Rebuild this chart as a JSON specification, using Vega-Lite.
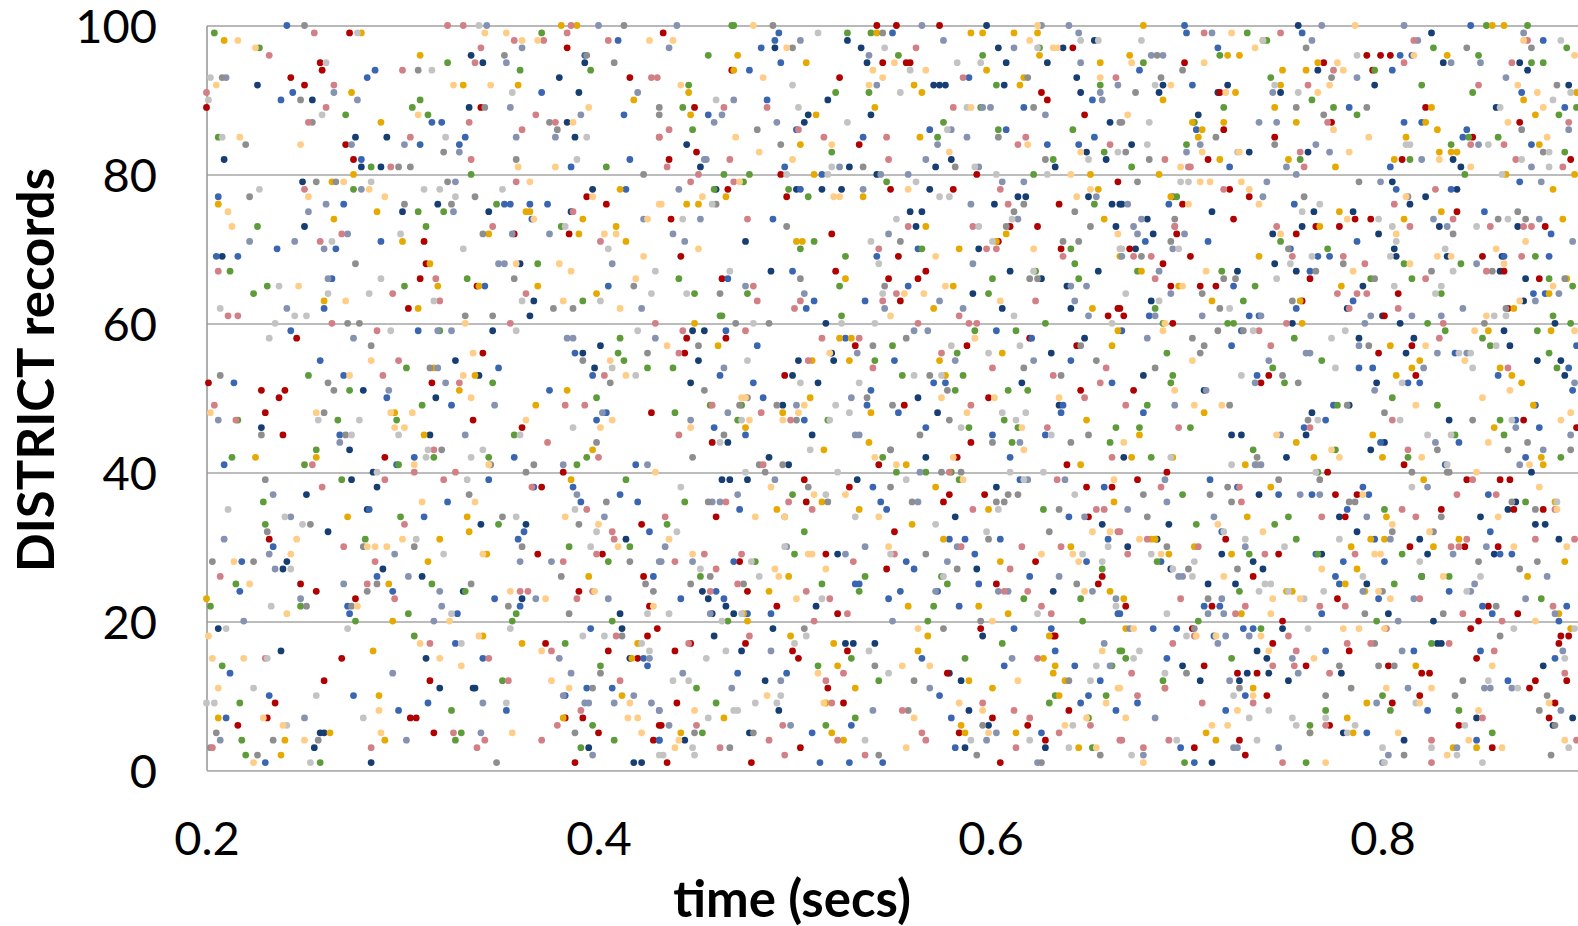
{"$schema":"https://vega.github.io/schema/vega-lite/v6.json","width":1372,"height":744.5,"autosize":"none","padding":{"left":206.5,"top":25.5,"right":0,"bottom":156},"background":"white","data":{"values":[
{"t":0.241,"r":100,"s":"c"},{"t":0.250,"r":100,"s":"g"},{"t":0.323,"r":100,"s":"h"},{"t":0.331,"r":100,"s":"h"},{"t":0.339,"r":100,"s":"i"},{"t":0.343,"r":100,"s":"f"},{"t":0.381,"r":100,"s":"e"},{"t":0.386,"r":100,"s":"h"},{"t":0.389,"r":100,"s":"e"},{"t":0.400,"r":100,"s":"f"},{"t":0.413,"r":100,"s":"g"},
{"t":0.204,"r":99,"s":"d"},{"t":0.255,"r":99,"s":"h"},{"t":0.273,"r":99,"s":"b"},{"t":0.277,"r":99,"s":"i"},{"t":0.279,"r":99,"s":"e"},{"t":0.342,"r":99,"s":"j"},{"t":0.353,"r":99,"s":"j"},{"t":0.371,"r":99,"s":"d"},{"t":0.384,"r":99,"s":"h"},
{"t":0.209,"r":98,"s":"e"},{"t":0.216,"r":98,"s":"j"},{"t":0.357,"r":98,"s":"h"},{"t":0.361,"r":98,"s":"j"},{"t":0.369,"r":98,"s":"j"},{"t":0.372,"r":98,"s":"h"},{"t":0.405,"r":98,"s":"h"},{"t":0.410,"r":98,"s":"c"},{"t":0.426,"r":98,"s":"j"},
{"t":0.225,"r":97,"s":"j"},{"t":0.227,"r":97,"s":"d"},{"t":0.340,"r":97,"s":"h"},{"t":0.361,"r":97,"s":"f"},{"t":0.384,"r":97,"s":"b"},
{"t":0.232,"r":96,"s":"h"},{"t":0.309,"r":96,"s":"e"},{"t":0.335,"r":96,"s":"a"},{"t":0.352,"r":96,"s":"g"},{"t":0.393,"r":96,"s":"c"},{"t":0.394,"r":96,"s":"g"},
{"t":0.258,"r":95,"s":"b"},{"t":0.261,"r":95,"s":"i"},{"t":0.323,"r":95,"s":"d"},{"t":0.337,"r":95,"s":"h"},{"t":0.341,"r":95,"s":"a"},{"t":0.353,"r":95,"s":"f"},{"t":0.393,"r":95,"s":"a"},{"t":0.408,"r":95,"s":"g"},
{"t":0.259,"r":94,"s":"b"},{"t":0.286,"r":94,"s":"c"},{"t":0.300,"r":94,"s":"h"},{"t":0.308,"r":94,"s":"g"},{"t":0.315,"r":94,"s":"i"},{"t":0.360,"r":94,"s":"d"},{"t":0.396,"r":94,"s":"d"},
{"t":0.202,"r":93,"s":"i"},{"t":0.208,"r":93,"s":"g"},{"t":0.210,"r":93,"s":"f"},{"t":0.243,"r":93,"s":"b"},{"t":0.282,"r":93,"s":"c"},{"t":0.380,"r":93,"s":"a"},{"t":0.416,"r":93,"s":"b"},{"t":0.427,"r":93,"s":"h"},{"t":0.430,"r":93,"s":"h"},
{"t":0.205,"r":92,"s":"j"},{"t":0.226,"r":92,"s":"a"},{"t":0.250,"r":92,"s":"b"},{"t":0.265,"r":92,"s":"h"},{"t":0.326,"r":92,"s":"j"},{"t":0.331,"r":92,"s":"e"},{"t":0.345,"r":92,"s":"j"},{"t":0.359,"r":92,"s":"e"},
{"t":0.200,"r":91,"s":"h"},{"t":0.244,"r":91,"s":"c"},{"t":0.265,"r":91,"s":"f"},{"t":0.274,"r":91,"s":"e"},{"t":0.356,"r":91,"s":"i"},{"t":0.371,"r":91,"s":"c"},{"t":0.390,"r":91,"s":"a"},{"t":0.420,"r":91,"s":"f"},
{"t":0.201,"r":90,"s":"i"},{"t":0.238,"r":90,"s":"c"},{"t":0.248,"r":90,"s":"g"},{"t":0.254,"r":90,"s":"a"},{"t":0.277,"r":90,"s":"f"},{"t":0.309,"r":90,"s":"d"},{"t":0.418,"r":90,"s":"e"},
{"t":0.200,"r":89,"s":"b"},{"t":0.261,"r":89,"s":"h"},{"t":0.305,"r":89,"s":"d"},{"t":0.334,"r":89,"s":"a"},{"t":0.340,"r":89,"s":"b"},{"t":0.342,"r":89,"s":"g"},{"t":0.355,"r":89,"s":"f"},{"t":0.395,"r":89,"s":"j"},
{"t":0.259,"r":88,"s":"i"},{"t":0.271,"r":88,"s":"d"},{"t":0.308,"r":88,"s":"j"},{"t":0.313,"r":88,"s":"d"},{"t":0.368,"r":88,"s":"h"},{"t":0.391,"r":88,"s":"f"},{"t":0.413,"r":88,"s":"c"},{"t":0.431,"r":88,"s":"g"},
{"t":0.252,"r":87,"s":"h"},{"t":0.254,"r":87,"s":"g"},{"t":0.289,"r":87,"s":"e"},{"t":0.315,"r":87,"s":"c"},{"t":0.320,"r":87,"s":"c"},{"t":0.334,"r":87,"s":"h"},{"t":0.375,"r":87,"s":"g"},{"t":0.378,"r":87,"s":"h"},{"t":0.384,"r":87,"s":"a"},{"t":0.387,"r":87,"s":"j"},
{"t":0.361,"r":86,"s":"h"},{"t":0.379,"r":86,"s":"g"},
{"t":0.206,"r":85,"s":"d"},{"t":0.208,"r":85,"s":"i"},{"t":0.217,"r":85,"s":"j"},{"t":0.276,"r":85,"s":"a"},{"t":0.292,"r":85,"s":"a"},{"t":0.304,"r":85,"s":"h"},{"t":0.322,"r":85,"s":"i"},{"t":0.332,"r":85,"s":"c"},{"t":0.358,"r":85,"s":"f"},{"t":0.378,"r":85,"s":"f"},{"t":0.388,"r":85,"s":"a"},{"t":0.394,"r":85,"s":"i"},{"t":0.431,"r":85,"s":"h"},
{"t":0.220,"r":84,"s":"g"},{"t":0.248,"r":84,"s":"j"},{"t":0.271,"r":84,"s":"b"},{"t":0.274,"r":84,"s":"f"},{"t":0.301,"r":84,"s":"f"},{"t":0.309,"r":84,"s":"c"},{"t":0.329,"r":84,"s":"c"},
{"t":0.321,"r":83,"s":"g"},{"t":0.329,"r":83,"s":"f"},
{"t":0.209,"r":82,"s":"a"},{"t":0.275,"r":82,"s":"b"},{"t":0.279,"r":82,"s":"c"},{"t":0.335,"r":82,"s":"h"},{"t":0.358,"r":82,"s":"g"},{"t":0.389,"r":82,"s":"i"},{"t":0.416,"r":82,"s":"c"},
{"t":0.279,"r":81,"s":"a"},{"t":0.284,"r":81,"s":"d"},{"t":0.289,"r":81,"s":"a"},{"t":0.294,"r":81,"s":"h"},{"t":0.298,"r":81,"s":"g"},{"t":0.304,"r":81,"s":"g"},{"t":0.359,"r":81,"s":"j"},{"t":0.378,"r":81,"s":"j"},{"t":0.386,"r":81,"s":"c"},{"t":0.404,"r":81,"s":"d"},
{"t":0.275,"r":80,"s":"e"},{"t":0.335,"r":80,"s":"d"},{"t":0.423,"r":80,"s":"g"},
{"t":0.249,"r":79,"s":"a"},{"t":0.256,"r":79,"s":"g"},{"t":0.264,"r":79,"s":"e"},{"t":0.266,"r":79,"s":"g"},{"t":0.270,"r":79,"s":"j"},{"t":0.284,"r":79,"s":"i"},{"t":0.323,"r":79,"s":"g"},{"t":0.327,"r":79,"s":"f"},{"t":0.358,"r":79,"s":"h"},{"t":0.365,"r":79,"s":"j"},
{"t":0.227,"r":78,"s":"i"},{"t":0.250,"r":78,"s":"h"},{"t":0.275,"r":78,"s":"d"},{"t":0.279,"r":78,"s":"f"},{"t":0.283,"r":78,"s":"j"},{"t":0.311,"r":78,"s":"i"},{"t":0.319,"r":78,"s":"i"},{"t":0.351,"r":78,"s":"i"},{"t":0.397,"r":78,"s":"a"},{"t":0.411,"r":78,"s":"e"},{"t":0.414,"r":78,"s":"c"},
{"t":0.206,"r":77,"s":"c"},{"t":0.222,"r":77,"s":"g"},{"t":0.252,"r":77,"s":"j"},{"t":0.291,"r":77,"s":"j"},{"t":0.327,"r":77,"s":"i"},{"t":0.337,"r":77,"s":"g"},{"t":0.394,"r":77,"s":"b"},{"t":0.397,"r":77,"s":"j"},
{"t":0.206,"r":76,"s":"e"},{"t":0.261,"r":76,"s":"f"},{"t":0.270,"r":76,"s":"c"},{"t":0.301,"r":76,"s":"g"},{"t":0.318,"r":76,"s":"a"},{"t":0.325,"r":76,"s":"g"},{"t":0.348,"r":76,"s":"d"},{"t":0.352,"r":76,"s":"c"},{"t":0.355,"r":76,"s":"c"},{"t":0.365,"r":76,"s":"c"},{"t":0.374,"r":76,"s":"c"},{"t":0.404,"r":76,"s":"b"},{"t":0.431,"r":76,"s":"j"},
{"t":0.211,"r":75,"s":"j"},{"t":0.252,"r":75,"s":"f"},{"t":0.287,"r":75,"s":"e"},{"t":0.300,"r":75,"s":"a"},{"t":0.308,"r":75,"s":"d"},{"t":0.321,"r":75,"s":"d"},{"t":0.326,"r":75,"s":"f"},{"t":0.344,"r":75,"s":"a"},{"t":0.363,"r":75,"s":"e"},{"t":0.365,"r":75,"s":"e"},{"t":0.386,"r":75,"s":"a"},{"t":0.387,"r":75,"s":"h"},
{"t":0.265,"r":74,"s":"e"},{"t":0.366,"r":74,"s":"c"},{"t":0.367,"r":74,"s":"j"},{"t":0.392,"r":74,"s":"e"},{"t":0.423,"r":74,"s":"f"},{"t":0.425,"r":74,"s":"j"},
{"t":0.213,"r":73,"s":"j"},{"t":0.226,"r":73,"s":"d"},{"t":0.250,"r":73,"s":"a"},{"t":0.312,"r":73,"s":"d"},{"t":0.346,"r":73,"s":"h"},{"t":0.381,"r":73,"s":"d"},{"t":0.383,"r":73,"s":"i"},{"t":0.409,"r":73,"s":"e"},
{"t":0.269,"r":72,"s":"h"},{"t":0.272,"r":72,"s":"f"},{"t":0.299,"r":72,"s":"i"},{"t":0.341,"r":72,"s":"g"},{"t":0.344,"r":72,"s":"e"},{"t":0.356,"r":72,"s":"f"},{"t":0.357,"r":72,"s":"b"},{"t":0.375,"r":72,"s":"f"},{"t":0.385,"r":72,"s":"b"},{"t":0.390,"r":72,"s":"e"},{"t":0.403,"r":72,"s":"j"},{"t":0.409,"r":72,"s":"j"},
{"t":0.222,"r":71,"s":"f"},{"t":0.245,"r":71,"s":"f"},{"t":0.258,"r":71,"s":"h"},{"t":0.264,"r":71,"s":"i"},{"t":0.289,"r":71,"s":"c"},{"t":0.300,"r":71,"s":"e"},{"t":0.311,"r":71,"s":"b"},{"t":0.401,"r":71,"s":"h"},{"t":0.414,"r":71,"s":"e"},
{"t":0.236,"r":70,"s":"c"},{"t":0.260,"r":70,"s":"f"},{"t":0.266,"r":70,"s":"c"},{"t":0.331,"r":70,"s":"i"},{"t":0.405,"r":70,"s":"i"},
{"t":0.205,"r":69,"s":"c"},{"t":0.208,"r":69,"s":"a"},{"t":0.216,"r":69,"s":"c"},{"t":0.423,"r":69,"s":"j"},
{"t":0.276,"r":68,"s":"g"},{"t":0.312,"r":68,"s":"b"},{"t":0.314,"r":68,"s":"e"},{"t":0.349,"r":68,"s":"f"},{"t":0.352,"r":68,"s":"f"},{"t":0.358,"r":68,"s":"j"},{"t":0.360,"r":68,"s":"a"},{"t":0.369,"r":68,"s":"d"},{"t":0.380,"r":68,"s":"j"},{"t":0.407,"r":68,"s":"f"},
{"t":0.206,"r":67,"s":"h"},{"t":0.212,"r":67,"s":"d"},{"t":0.386,"r":67,"s":"j"},{"t":0.429,"r":67,"s":"i"},
{"t":0.262,"r":66,"s":"f"},{"t":0.264,"r":66,"s":"c"},{"t":0.289,"r":66,"s":"i"},{"t":0.309,"r":66,"s":"b"},{"t":0.317,"r":66,"s":"h"},{"t":0.333,"r":66,"s":"d"},{"t":0.357,"r":66,"s":"g"},{"t":0.419,"r":66,"s":"j"},
{"t":0.231,"r":65,"s":"d"},{"t":0.237,"r":65,"s":"i"},{"t":0.247,"r":65,"s":"j"},{"t":0.301,"r":65,"s":"d"},{"t":0.318,"r":65,"s":"e"},{"t":0.338,"r":65,"s":"b"},{"t":0.339,"r":65,"s":"e"},{"t":0.342,"r":65,"s":"c"},{"t":0.369,"r":65,"s":"e"},{"t":0.405,"r":65,"s":"c"},{"t":0.418,"r":65,"s":"g"},
{"t":0.224,"r":64,"s":"d"},{"t":0.262,"r":64,"s":"i"},{"t":0.283,"r":64,"s":"i"},{"t":0.295,"r":64,"s":"h"},{"t":0.363,"r":64,"s":"h"},{"t":0.399,"r":64,"s":"e"},{"t":0.427,"r":64,"s":"i"},
{"t":0.260,"r":63,"s":"e"},{"t":0.271,"r":63,"s":"j"},{"t":0.316,"r":63,"s":"i"},{"t":0.319,"r":63,"s":"h"},{"t":0.361,"r":63,"s":"i"},{"t":0.367,"r":63,"s":"a"},{"t":0.382,"r":63,"s":"j"},{"t":0.392,"r":63,"s":"d"},{"t":0.401,"r":63,"s":"i"},
{"t":0.207,"r":62,"s":"i"},{"t":0.241,"r":62,"s":"f"},{"t":0.260,"r":62,"s":"c"},{"t":0.303,"r":62,"s":"b"},{"t":0.308,"r":62,"s":"e"},{"t":0.377,"r":62,"s":"g"},{"t":0.387,"r":62,"s":"g"},{"t":0.411,"r":62,"s":"j"},{"t":0.422,"r":62,"s":"f"},
{"t":0.211,"r":61,"s":"h"},{"t":0.216,"r":61,"s":"h"},{"t":0.245,"r":61,"s":"i"},{"t":0.251,"r":61,"s":"i"},{"t":0.332,"r":61,"s":"g"},{"t":0.346,"r":61,"s":"g"},{"t":0.365,"r":61,"s":"a"},
{"t":0.235,"r":60,"s":"i"},{"t":0.264,"r":60,"s":"h"},{"t":0.272,"r":60,"s":"g"},{"t":0.278,"r":60,"s":"g"},{"t":0.332,"r":60,"s":"j"},{"t":0.355,"r":60,"s":"h"},{"t":0.429,"r":60,"s":"h"},
{"t":0.243,"r":59,"s":"c"},{"t":0.287,"r":59,"s":"h"},{"t":0.294,"r":59,"s":"i"},{"t":0.308,"r":59,"s":"c"},{"t":0.318,"r":59,"s":"f"},{"t":0.319,"r":59,"s":"d"},{"t":0.325,"r":59,"s":"f"},{"t":0.346,"r":59,"s":"a"},{"t":0.358,"r":59,"s":"i"},{"t":0.420,"r":59,"s":"i"},
{"t":0.232,"r":58,"s":"i"},{"t":0.246,"r":58,"s":"b"},{"t":0.275,"r":58,"s":"f"},{"t":0.384,"r":58,"s":"f"},{"t":0.387,"r":58,"s":"f"},{"t":0.411,"r":58,"s":"d"},{"t":0.429,"r":58,"s":"f"},
{"t":0.284,"r":57,"s":"g"},{"t":0.401,"r":57,"s":"a"},
{"t":0.336,"r":56,"s":"j"},{"t":0.341,"r":56,"s":"b"},{"t":0.388,"r":56,"s":"c"},{"t":0.392,"r":56,"s":"a"},{"t":0.410,"r":56,"s":"d"},{"t":0.425,"r":56,"s":"g"},
{"t":0.258,"r":55,"s":"c"},{"t":0.284,"r":55,"s":"j"},{"t":0.298,"r":55,"s":"h"},{"t":0.327,"r":55,"s":"a"},{"t":0.392,"r":55,"s":"g"},{"t":0.406,"r":55,"s":"j"},{"t":0.413,"r":55,"s":"d"},
{"t":0.302,"r":54,"s":"d"},{"t":0.314,"r":54,"s":"g"},{"t":0.316,"r":54,"s":"e"},{"t":0.318,"r":54,"s":"f"},{"t":0.349,"r":54,"s":"c"},{"t":0.398,"r":54,"s":"a"},{"t":0.407,"r":54,"s":"i"},{"t":0.425,"r":54,"s":"d"},
{"t":0.207,"r":53,"s":"g"},{"t":0.252,"r":53,"s":"d"},{"t":0.270,"r":53,"s":"c"},{"t":0.273,"r":53,"s":"j"},{"t":0.290,"r":53,"s":"h"},{"t":0.331,"r":53,"s":"j"},{"t":0.337,"r":53,"s":"e"},{"t":0.339,"r":53,"s":"a"},{"t":0.397,"r":53,"s":"c"},{"t":0.403,"r":53,"s":"h"},{"t":0.414,"r":53,"s":"j"},{"t":0.419,"r":53,"s":"i"},
{"t":0.201,"r":52,"s":"b"},{"t":0.214,"r":52,"s":"c"},{"t":0.262,"r":52,"s":"g"},{"t":0.315,"r":52,"s":"b"},{"t":0.322,"r":52,"s":"f"},{"t":0.329,"r":52,"s":"h"},{"t":0.346,"r":52,"s":"d"},{"t":0.406,"r":52,"s":"g"},
{"t":0.228,"r":51,"s":"b"},{"t":0.240,"r":51,"s":"b"},{"t":0.265,"r":51,"s":"g"},{"t":0.273,"r":51,"s":"d"},{"t":0.280,"r":51,"s":"a"},{"t":0.293,"r":51,"s":"f"},{"t":0.329,"r":51,"s":"e"},{"t":0.375,"r":51,"s":"c"},{"t":0.384,"r":51,"s":"e"},
{"t":0.237,"r":50,"s":"b"},{"t":0.292,"r":50,"s":"c"},{"t":0.317,"r":50,"s":"a"},{"t":0.335,"r":50,"s":"j"},{"t":0.399,"r":50,"s":"d"},
{"t":0.204,"r":49,"s":"h"},{"t":0.310,"r":49,"s":"d"},{"t":0.325,"r":49,"s":"c"},{"t":0.347,"r":49,"s":"f"},{"t":0.368,"r":49,"s":"e"},{"t":0.383,"r":49,"s":"h"},{"t":0.393,"r":49,"s":"h"},
{"t":0.202,"r":48,"s":"j"},{"t":0.230,"r":48,"s":"b"},{"t":0.256,"r":48,"s":"j"},{"t":0.260,"r":48,"s":"g"},{"t":0.294,"r":48,"s":"j"},{"t":0.296,"r":48,"s":"e"},{"t":0.305,"r":48,"s":"j"},{"t":0.402,"r":48,"s":"f"},{"t":0.404,"r":48,"s":"c"},{"t":0.427,"r":48,"s":"b"},
{"t":0.206,"r":47,"s":"f"},{"t":0.215,"r":47,"s":"h"},{"t":0.216,"r":47,"s":"d"},{"t":0.257,"r":47,"s":"i"},{"t":0.267,"r":47,"s":"d"},{"t":0.278,"r":47,"s":"i"},{"t":0.297,"r":47,"s":"d"},{"t":0.336,"r":47,"s":"b"},{"t":0.363,"r":47,"s":"j"},{"t":0.399,"r":47,"s":"c"},{"t":0.407,"r":47,"s":"j"},
{"t":0.228,"r":46,"s":"a"},{"t":0.296,"r":46,"s":"j"},{"t":0.301,"r":46,"s":"j"},{"t":0.361,"r":46,"s":"b"},{"t":0.387,"r":46,"s":"i"},{"t":0.401,"r":46,"s":"j"},
{"t":0.228,"r":45,"s":"g"},{"t":0.239,"r":45,"s":"b"},{"t":0.268,"r":45,"s":"c"},{"t":0.271,"r":45,"s":"g"},{"t":0.274,"r":45,"s":"i"},{"t":0.298,"r":45,"s":"i"},{"t":0.311,"r":45,"s":"e"},{"t":0.314,"r":45,"s":"a"},{"t":0.332,"r":45,"s":"f"},{"t":0.357,"r":45,"s":"d"},{"t":0.360,"r":45,"s":"i"},
{"t":0.268,"r":44,"s":"f"},{"t":0.374,"r":44,"s":"h"},{"t":0.399,"r":44,"s":"g"},
{"t":0.256,"r":43,"s":"d"},{"t":0.273,"r":43,"s":"a"},{"t":0.313,"r":43,"s":"i"},{"t":0.316,"r":43,"s":"h"},{"t":0.320,"r":43,"s":"g"},{"t":0.341,"r":43,"s":"i"},{"t":0.397,"r":43,"s":"e"},
{"t":0.213,"r":42,"s":"d"},{"t":0.225,"r":42,"s":"e"},{"t":0.256,"r":42,"s":"e"},{"t":0.291,"r":42,"s":"b"},{"t":0.306,"r":42,"s":"c"},{"t":0.312,"r":42,"s":"i"},{"t":0.316,"r":42,"s":"d"},{"t":0.335,"r":42,"s":"i"},{"t":0.344,"r":42,"s":"d"},{"t":0.357,"r":42,"s":"c"},{"t":0.394,"r":42,"s":"d"},{"t":0.400,"r":42,"s":"h"},
{"t":0.209,"r":41,"s":"c"},{"t":0.250,"r":41,"s":"d"},{"t":0.254,"r":41,"s":"h"},{"t":0.297,"r":41,"s":"c"},{"t":0.298,"r":41,"s":"d"},{"t":0.306,"r":41,"s":"j"},{"t":0.344,"r":41,"s":"j"},{"t":0.345,"r":41,"s":"g"},{"t":0.367,"r":41,"s":"g"},{"t":0.382,"r":41,"s":"f"},{"t":0.389,"r":41,"s":"d"},{"t":0.419,"r":41,"s":"c"},{"t":0.425,"r":41,"s":"f"},
{"t":0.285,"r":40,"s":"a"},{"t":0.287,"r":40,"s":"i"},{"t":0.306,"r":40,"s":"h"},{"t":0.327,"r":40,"s":"h"},{"t":0.363,"r":40,"s":"g"},{"t":0.382,"r":40,"s":"b"},{"t":0.429,"r":40,"s":"j"},
{"t":0.230,"r":39,"s":"g"},{"t":0.269,"r":39,"s":"d"},{"t":0.274,"r":39,"s":"a"},{"t":0.291,"r":39,"s":"h"},{"t":0.321,"r":39,"s":"h"},{"t":0.333,"r":39,"s":"i"},{"t":0.344,"r":39,"s":"c"},{"t":0.386,"r":39,"s":"e"},{"t":0.414,"r":39,"s":"d"},
{"t":0.259,"r":38,"s":"h"},{"t":0.287,"r":38,"s":"a"},{"t":0.366,"r":38,"s":"h"},{"t":0.367,"r":38,"s":"c"},{"t":0.371,"r":38,"s":"b"},{"t":0.387,"r":38,"s":"c"},
{"t":0.234,"r":37,"s":"f"},{"t":0.251,"r":37,"s":"a"},{"t":0.334,"r":37,"s":"g"},{"t":0.389,"r":37,"s":"f"},{"t":0.411,"r":37,"s":"c"},
{"t":0.229,"r":36,"s":"d"},{"t":0.310,"r":36,"s":"j"},{"t":0.323,"r":36,"s":"c"},{"t":0.337,"r":36,"s":"j"},{"t":0.391,"r":36,"s":"c"},{"t":0.404,"r":36,"s":"g"},{"t":0.420,"r":36,"s":"c"},
{"t":0.211,"r":35,"s":"i"},{"t":0.282,"r":35,"s":"a"},{"t":0.283,"r":35,"s":"c"},{"t":0.388,"r":35,"s":"i"},{"t":0.394,"r":35,"s":"h"},
{"t":0.240,"r":34,"s":"i"},{"t":0.243,"r":34,"s":"f"},{"t":0.272,"r":34,"s":"e"},{"t":0.299,"r":34,"s":"d"},{"t":0.311,"r":34,"s":"c"},{"t":0.333,"r":34,"s":"e"},{"t":0.351,"r":34,"s":"g"},{"t":0.358,"r":34,"s":"i"},{"t":0.383,"r":34,"s":"j"},{"t":0.403,"r":34,"s":"f"},
{"t":0.230,"r":33,"s":"d"},{"t":0.249,"r":33,"s":"i"},{"t":0.253,"r":33,"s":"g"},{"t":0.301,"r":33,"s":"h"},{"t":0.340,"r":33,"s":"a"},{"t":0.349,"r":33,"s":"d"},{"t":0.363,"r":33,"s":"a"},{"t":0.390,"r":33,"s":"g"},{"t":0.400,"r":33,"s":"j"},{"t":0.422,"r":33,"s":"b"},
{"t":0.231,"r":32,"s":"g"},{"t":0.262,"r":32,"s":"a"},{"t":0.334,"r":32,"s":"e"},{"t":0.362,"r":32,"s":"c"},{"t":0.399,"r":32,"s":"i"},{"t":0.407,"r":32,"s":"h"},{"t":0.426,"r":32,"s":"c"},
{"t":0.209,"r":31,"s":"f"},{"t":0.232,"r":31,"s":"b"},{"t":0.246,"r":31,"s":"j"},{"t":0.281,"r":31,"s":"d"},{"t":0.300,"r":31,"s":"j"},{"t":0.307,"r":31,"s":"i"},{"t":0.319,"r":31,"s":"e"},{"t":0.359,"r":31,"s":"c"},{"t":0.408,"r":31,"s":"h"},{"t":0.414,"r":31,"s":"a"},
{"t":0.234,"r":30,"s":"c"},{"t":0.270,"r":30,"s":"h"},{"t":0.280,"r":30,"s":"g"},{"t":0.282,"r":30,"s":"j"},{"t":0.286,"r":30,"s":"j"},{"t":0.292,"r":30,"s":"j"},{"t":0.306,"r":30,"s":"g"},{"t":0.361,"r":30,"s":"g"},{"t":0.385,"r":30,"s":"d"},{"t":0.396,"r":30,"s":"i"},{"t":0.410,"r":30,"s":"j"},{"t":0.416,"r":30,"s":"d"},
{"t":0.232,"r":29,"s":"f"},{"t":0.243,"r":29,"s":"j"},{"t":0.296,"r":29,"s":"f"},{"t":0.321,"r":29,"s":"i"},{"t":0.341,"r":29,"s":"j"},{"t":0.343,"r":29,"s":"e"},{"t":0.369,"r":29,"s":"b"},{"t":0.399,"r":29,"s":"h"},{"t":0.402,"r":29,"s":"b"},
{"t":0.203,"r":28,"s":"g"},{"t":0.214,"r":28,"s":"j"},{"t":0.218,"r":28,"s":"c"},{"t":0.224,"r":28,"s":"g"},{"t":0.241,"r":28,"s":"a"},{"t":0.286,"r":28,"s":"h"},{"t":0.313,"r":28,"s":"e"},{"t":0.360,"r":28,"s":"f"},{"t":0.376,"r":28,"s":"f"},{"t":0.382,"r":28,"s":"h"},{"t":0.405,"r":28,"s":"d"},{"t":0.416,"r":28,"s":"g"},{"t":0.431,"r":28,"s":"f"},
{"t":0.235,"r":27,"s":"f"},{"t":0.239,"r":27,"s":"a"},{"t":0.243,"r":27,"s":"i"},{"t":0.290,"r":27,"s":"a"},
{"t":0.207,"r":26,"s":"h"},{"t":0.287,"r":26,"s":"c"},{"t":0.303,"r":26,"s":"f"},{"t":0.310,"r":26,"s":"a"},{"t":0.381,"r":26,"s":"g"},{"t":0.395,"r":26,"s":"e"},{"t":0.423,"r":26,"s":"b"},{"t":0.428,"r":26,"s":"c"},
{"t":0.215,"r":25,"s":"d"},{"t":0.222,"r":25,"s":"j"},{"t":0.248,"r":25,"s":"b"},{"t":0.270,"r":25,"s":"f"},{"t":0.282,"r":25,"s":"h"},{"t":0.287,"r":25,"s":"g"},{"t":0.293,"r":25,"s":"e"},{"t":0.315,"r":25,"s":"d"},{"t":0.335,"r":25,"s":"g"},{"t":0.424,"r":25,"s":"g"},
{"t":0.217,"r":24,"s":"c"},{"t":0.256,"r":24,"s":"b"},{"t":0.282,"r":24,"s":"g"},{"t":0.295,"r":24,"s":"c"},{"t":0.319,"r":24,"s":"f"},{"t":0.331,"r":24,"s":"a"},{"t":0.332,"r":24,"s":"d"},{"t":0.355,"r":24,"s":"j"},{"t":0.360,"r":24,"s":"h"},{"t":0.364,"r":24,"s":"h"},{"t":0.390,"r":24,"s":"b"},{"t":0.397,"r":24,"s":"h"},{"t":0.398,"r":24,"s":"j"},{"t":0.428,"r":24,"s":"g"},
{"t":0.200,"r":23,"s":"e"},{"t":0.248,"r":23,"s":"f"},{"t":0.276,"r":23,"s":"b"},{"t":0.296,"r":23,"s":"h"},{"t":0.347,"r":23,"s":"c"},{"t":0.361,"r":23,"s":"a"},{"t":0.368,"r":23,"s":"f"},{"t":0.373,"r":23,"s":"j"},{"t":0.389,"r":23,"s":"h"},{"t":0.405,"r":23,"s":"f"},
{"t":0.202,"r":22,"s":"d"},{"t":0.233,"r":22,"s":"i"},{"t":0.248,"r":22,"s":"d"},{"t":0.251,"r":22,"s":"g"},{"t":0.272,"r":22,"s":"c"},{"t":0.274,"r":22,"s":"g"},{"t":0.277,"r":22,"s":"j"},{"t":0.320,"r":22,"s":"f"},{"t":0.354,"r":22,"s":"g"},{"t":0.360,"r":22,"s":"c"},{"t":0.426,"r":22,"s":"b"},{"t":0.428,"r":22,"s":"j"},
{"t":0.241,"r":21,"s":"j"},{"t":0.273,"r":21,"s":"c"},{"t":0.303,"r":21,"s":"d"},{"t":0.325,"r":21,"s":"i"},{"t":0.328,"r":21,"s":"c"},{"t":0.358,"r":21,"s":"d"},{"t":0.385,"r":21,"s":"g"},{"t":0.411,"r":21,"s":"a"},{"t":0.425,"r":21,"s":"i"},
{"t":0.219,"r":20,"s":"f"},{"t":0.276,"r":20,"s":"d"},{"t":0.295,"r":20,"s":"e"},{"t":0.316,"r":20,"s":"f"},{"t":0.324,"r":20,"s":"j"},{"t":0.356,"r":20,"s":"d"},{"t":0.407,"r":20,"s":"d"},
{"t":0.206,"r":19,"s":"a"},{"t":0.210,"r":19,"s":"i"},{"t":0.272,"r":19,"s":"i"},{"t":0.355,"r":19,"s":"i"},{"t":0.396,"r":19,"s":"c"},{"t":0.412,"r":19,"s":"a"},{"t":0.430,"r":19,"s":"b"},
{"t":0.201,"r":18,"s":"j"},{"t":0.306,"r":18,"s":"d"},{"t":0.339,"r":18,"s":"j"},{"t":0.341,"r":18,"s":"e"},{"t":0.392,"r":18,"s":"i"},{"t":0.403,"r":18,"s":"i"},{"t":0.409,"r":18,"s":"h"},{"t":0.412,"r":18,"s":"g"},{"t":0.425,"r":18,"s":"b"},
{"t":0.309,"r":17,"s":"j"},{"t":0.314,"r":17,"s":"h"},{"t":0.327,"r":17,"s":"c"},{"t":0.330,"r":17,"s":"i"},{"t":0.361,"r":17,"s":"e"},{"t":0.373,"r":17,"s":"b"},{"t":0.383,"r":17,"s":"d"},{"t":0.420,"r":17,"s":"e"},{"t":0.422,"r":17,"s":"i"},
{"t":0.238,"r":16,"s":"a"},{"t":0.285,"r":16,"s":"e"},{"t":0.371,"r":16,"s":"j"},{"t":0.376,"r":16,"s":"h"},{"t":0.405,"r":16,"s":"b"},{"t":0.426,"r":16,"s":"i"},
{"t":0.203,"r":15,"s":"j"},{"t":0.219,"r":15,"s":"j"},{"t":0.230,"r":15,"s":"h"},{"t":0.231,"r":15,"s":"i"},{"t":0.269,"r":15,"s":"b"},{"t":0.312,"r":15,"s":"a"},{"t":0.319,"r":15,"s":"j"},{"t":0.341,"r":15,"s":"c"},{"t":0.344,"r":15,"s":"h"},{"t":0.380,"r":15,"s":"f"},{"t":0.416,"r":15,"s":"a"},{"t":0.417,"r":15,"s":"e"},{"t":0.420,"r":15,"s":"b"},{"t":0.423,"r":15,"s":"c"},{"t":0.426,"r":15,"s":"f"},
{"t":0.208,"r":14,"s":"d"},{"t":0.330,"r":14,"s":"j"},{"t":0.401,"r":14,"s":"d"},{"t":0.425,"r":14,"s":"c"},
{"t":0.212,"r":13,"s":"c"},{"t":0.295,"r":13,"s":"f"},{"t":0.386,"r":13,"s":"f"},{"t":0.401,"r":13,"s":"g"},
{"t":0.260,"r":12,"s":"b"},{"t":0.314,"r":12,"s":"b"},{"t":0.351,"r":12,"s":"d"},{"t":0.354,"r":12,"s":"h"},{"t":0.376,"r":12,"s":"j"},{"t":0.411,"r":12,"s":"h"},
{"t":0.206,"r":11,"s":"j"},{"t":0.224,"r":11,"s":"i"},{"t":0.319,"r":11,"s":"a"},{"t":0.336,"r":11,"s":"a"},{"t":0.337,"r":11,"s":"a"},{"t":0.385,"r":11,"s":"j"},{"t":0.394,"r":11,"s":"c"},{"t":0.397,"r":11,"s":"g"},{"t":0.407,"r":11,"s":"c"},
{"t":0.232,"r":10,"s":"c"},{"t":0.256,"r":10,"s":"i"},{"t":0.275,"r":10,"s":"c"},{"t":0.288,"r":10,"s":"e"},{"t":0.382,"r":10,"s":"f"},{"t":0.383,"r":10,"s":"c"},{"t":0.412,"r":10,"s":"e"},{"t":0.418,"r":10,"s":"f"},
{"t":0.200,"r":9,"s":"i"},{"t":0.204,"r":9,"s":"i"},{"t":0.217,"r":9,"s":"d"},{"t":0.235,"r":9,"s":"b"},{"t":0.313,"r":9,"s":"c"},{"t":0.341,"r":9,"s":"f"},{"t":0.353,"r":9,"s":"i"},{"t":0.393,"r":9,"s":"f"},{"t":0.395,"r":9,"s":"f"},{"t":0.408,"r":9,"s":"f"},{"t":0.416,"r":9,"s":"j"},{"t":0.427,"r":9,"s":"f"},
{"t":0.288,"r":8,"s":"j"},{"t":0.298,"r":8,"s":"c"},{"t":0.325,"r":8,"s":"d"},{"t":0.353,"r":8,"s":"c"},{"t":0.391,"r":8,"s":"h"},{"t":0.431,"r":8,"s":"f"},
{"t":0.206,"r":7,"s":"e"},{"t":0.210,"r":7,"s":"c"},{"t":0.229,"r":7,"s":"j"},{"t":0.231,"r":7,"s":"b"},{"t":0.250,"r":7,"s":"f"},{"t":0.280,"r":7,"s":"i"},{"t":0.304,"r":7,"s":"b"},{"t":0.307,"r":7,"s":"b"},{"t":0.382,"r":7,"s":"e"},{"t":0.383,"r":7,"s":"b"},{"t":0.392,"r":7,"s":"b"},{"t":0.415,"r":7,"s":"j"},{"t":0.420,"r":7,"s":"j"},
{"t":0.216,"r":6,"s":"b"},{"t":0.239,"r":6,"s":"j"},{"t":0.241,"r":6,"s":"i"},{"t":0.379,"r":6,"s":"h"},{"t":0.397,"r":6,"s":"d"},{"t":0.431,"r":6,"s":"b"},
{"t":0.205,"r":5,"s":"g"},{"t":0.258,"r":5,"s":"a"},{"t":0.260,"r":5,"s":"a"},{"t":0.263,"r":5,"s":"e"},{"t":0.289,"r":5,"s":"j"},{"t":0.316,"r":5,"s":"b"},{"t":0.326,"r":5,"s":"h"},{"t":0.330,"r":5,"s":"d"},{"t":0.340,"r":5,"s":"f"},{"t":0.356,"r":5,"s":"j"},{"t":0.388,"r":5,"s":"g"},{"t":0.400,"r":5,"s":"b"},{"t":0.422,"r":5,"s":"j"},
{"t":0.207,"r":4,"s":"f"},{"t":0.218,"r":4,"s":"d"},{"t":0.234,"r":4,"s":"g"},{"t":0.240,"r":4,"s":"e"},{"t":0.250,"r":4,"s":"j"},{"t":0.257,"r":4,"s":"g"},{"t":0.291,"r":4,"s":"e"},{"t":0.302,"r":4,"s":"f"},{"t":0.327,"r":4,"s":"d"},{"t":0.342,"r":4,"s":"h"},{"t":0.371,"r":4,"s":"h"},{"t":0.408,"r":4,"s":"d"},{"t":0.428,"r":4,"s":"b"},{"t":0.431,"r":4,"s":"c"},
{"t":0.202,"r":3,"s":"g"},{"t":0.203,"r":3,"s":"h"},{"t":0.255,"r":3,"s":"a"},{"t":0.284,"r":3,"s":"h"},{"t":0.338,"r":3,"s":"h"},{"t":0.391,"r":3,"s":"d"},{"t":0.395,"r":3,"s":"a"},
{"t":0.220,"r":2,"s":"d"},{"t":0.226,"r":2,"s":"g"},{"t":0.238,"r":2,"s":"e"},{"t":0.397,"r":2,"s":"f"},{"t":0.431,"r":2,"s":"i"},
{"t":0.224,"r":1,"s":"j"},{"t":0.230,"r":1,"s":"c"},{"t":0.253,"r":1,"s":"i"},{"t":0.258,"r":1,"s":"d"},{"t":0.284,"r":1,"s":"a"},{"t":0.348,"r":1,"s":"g"},{"t":0.388,"r":1,"s":"b"},{"t":0.418,"r":1,"s":"a"},{"t":0.422,"r":1,"s":"a"},
{"t":0.440,"r":100,"s":"f"},{"t":0.468,"r":100,"s":"d"},{"t":0.469,"r":100,"s":"d"},{"t":0.479,"r":100,"s":"j"},{"t":0.489,"r":100,"s":"g"},{"t":0.542,"r":100,"s":"b"},{"t":0.552,"r":100,"s":"b"},{"t":0.565,"r":100,"s":"f"},{"t":0.574,"r":100,"s":"b"},{"t":0.598,"r":100,"s":"a"},{"t":0.624,"r":100,"s":"j"},{"t":0.626,"r":100,"s":"f"},{"t":0.640,"r":100,"s":"f"},
{"t":0.433,"r":99,"s":"b"},{"t":0.492,"r":99,"s":"c"},{"t":0.512,"r":99,"s":"i"},{"t":0.527,"r":99,"s":"d"},{"t":0.539,"r":99,"s":"d"},{"t":0.542,"r":99,"s":"e"},{"t":0.545,"r":99,"s":"g"},{"t":0.550,"r":99,"s":"c"},{"t":0.590,"r":99,"s":"e"},{"t":0.596,"r":99,"s":"e"},{"t":0.612,"r":99,"s":"e"},{"t":0.624,"r":99,"s":"e"},{"t":0.645,"r":99,"s":"f"},
{"t":0.438,"r":98,"s":"j"},{"t":0.490,"r":98,"s":"c"},{"t":0.503,"r":98,"s":"f"},{"t":0.527,"r":98,"s":"a"},{"t":0.576,"r":98,"s":"f"},{"t":0.620,"r":98,"s":"j"},{"t":0.646,"r":98,"s":"i"},{"t":0.653,"r":98,"s":"a"},{"t":0.655,"r":98,"s":"i"},
{"t":0.436,"r":97,"s":"f"},{"t":0.483,"r":97,"s":"c"},{"t":0.490,"r":97,"s":"a"},{"t":0.496,"r":97,"s":"j"},{"t":0.499,"r":97,"s":"g"},{"t":0.534,"r":97,"s":"a"},{"t":0.546,"r":97,"s":"i"},{"t":0.562,"r":97,"s":"h"},{"t":0.604,"r":97,"s":"a"},{"t":0.612,"r":97,"s":"f"},{"t":0.624,"r":97,"s":"i"},{"t":0.625,"r":97,"s":"d"},{"t":0.632,"r":97,"s":"j"},{"t":0.634,"r":97,"s":"j"},{"t":0.637,"r":97,"s":"a"},{"t":0.642,"r":97,"s":"b"},
{"t":0.456,"r":96,"s":"d"},{"t":0.471,"r":96,"s":"e"},{"t":0.538,"r":96,"s":"f"},{"t":0.553,"r":96,"s":"d"},{"t":0.596,"r":96,"s":"d"},{"t":0.625,"r":96,"s":"e"},
{"t":0.493,"r":95,"s":"c"},{"t":0.506,"r":95,"s":"e"},{"t":0.537,"r":95,"s":"a"},{"t":0.545,"r":95,"s":"b"},{"t":0.551,"r":95,"s":"j"},{"t":0.557,"r":95,"s":"b"},{"t":0.559,"r":95,"s":"b"},{"t":0.583,"r":95,"s":"i"},{"t":0.595,"r":95,"s":"i"},{"t":0.608,"r":95,"s":"a"},{"t":0.629,"r":95,"s":"a"},{"t":0.646,"r":95,"s":"f"},{"t":0.656,"r":95,"s":"e"},
{"t":0.468,"r":94,"s":"b"},{"t":0.469,"r":94,"s":"e"},{"t":0.477,"r":94,"s":"c"},{"t":0.540,"r":94,"s":"j"},{"t":0.559,"r":94,"s":"i"},{"t":0.567,"r":94,"s":"j"},{"t":0.598,"r":94,"s":"e"},
{"t":0.484,"r":93,"s":"j"},{"t":0.523,"r":93,"s":"b"},{"t":0.545,"r":93,"s":"j"},{"t":0.586,"r":93,"s":"h"},{"t":0.589,"r":93,"s":"c"},{"t":0.617,"r":93,"s":"e"},{"t":0.619,"r":93,"s":"g"},{"t":0.644,"r":93,"s":"a"},{"t":0.656,"r":93,"s":"j"},{"t":0.664,"r":93,"s":"h"},
{"t":0.442,"r":92,"s":"j"},{"t":0.446,"r":92,"s":"d"},{"t":0.499,"r":92,"s":"i"},{"t":0.538,"r":92,"s":"j"},{"t":0.542,"r":92,"s":"f"},{"t":0.561,"r":92,"s":"e"},{"t":0.571,"r":92,"s":"a"},{"t":0.574,"r":92,"s":"a"},{"t":0.577,"r":92,"s":"a"},{"t":0.603,"r":92,"s":"d"},{"t":0.607,"r":92,"s":"a"},{"t":0.615,"r":92,"s":"e"},{"t":0.656,"r":92,"s":"d"},{"t":0.665,"r":92,"s":"f"},
{"t":0.446,"r":91,"s":"e"},{"t":0.521,"r":91,"s":"d"},{"t":0.538,"r":91,"s":"d"},{"t":0.554,"r":91,"s":"i"},{"t":0.565,"r":91,"s":"e"},{"t":0.626,"r":91,"s":"b"},{"t":0.646,"r":91,"s":"a"},{"t":0.656,"r":91,"s":"f"},
{"t":0.460,"r":90,"s":"i"},{"t":0.469,"r":90,"s":"f"},{"t":0.486,"r":90,"s":"c"},{"t":0.517,"r":90,"s":"a"},{"t":0.629,"r":90,"s":"b"},{"t":0.652,"r":90,"s":"c"},{"t":0.657,"r":90,"s":"f"},
{"t":0.431,"r":89,"s":"g"},{"t":0.443,"r":89,"s":"d"},{"t":0.449,"r":89,"s":"b"},{"t":0.464,"r":89,"s":"h"},{"t":0.486,"r":89,"s":"h"},{"t":0.502,"r":89,"s":"i"},{"t":0.541,"r":89,"s":"e"},{"t":0.581,"r":89,"s":"h"},{"t":0.588,"r":89,"s":"i"},{"t":0.590,"r":89,"s":"j"},{"t":0.595,"r":89,"s":"d"},{"t":0.596,"r":89,"s":"f"},{"t":0.600,"r":89,"s":"f"},{"t":0.617,"r":89,"s":"c"},{"t":0.622,"r":89,"s":"g"},
{"t":0.447,"r":88,"s":"e"},{"t":0.456,"r":88,"s":"c"},{"t":0.463,"r":88,"s":"f"},{"t":0.507,"r":88,"s":"a"},{"t":0.511,"r":88,"s":"e"},{"t":0.539,"r":88,"s":"a"},{"t":0.628,"r":88,"s":"f"},{"t":0.648,"r":88,"s":"b"},
{"t":0.459,"r":87,"s":"f"},{"t":0.491,"r":87,"s":"f"},{"t":0.505,"r":87,"s":"a"},{"t":0.527,"r":87,"s":"i"},{"t":0.576,"r":87,"s":"d"},{"t":0.661,"r":87,"s":"a"},{"t":0.666,"r":87,"s":"g"},
{"t":0.436,"r":86,"s":"h"},{"t":0.448,"r":86,"s":"d"},{"t":0.481,"r":86,"s":"g"},{"t":0.501,"r":86,"s":"c"},{"t":0.502,"r":86,"s":"h"},{"t":0.569,"r":86,"s":"c"},{"t":0.578,"r":86,"s":"i"},{"t":0.580,"r":86,"s":"f"},{"t":0.604,"r":86,"s":"d"},{"t":0.608,"r":86,"s":"c"},{"t":0.642,"r":86,"s":"d"},
{"t":0.431,"r":85,"s":"h"},{"t":0.470,"r":85,"s":"j"},{"t":0.515,"r":85,"s":"h"},{"t":0.535,"r":85,"s":"c"},{"t":0.547,"r":85,"s":"h"},{"t":0.564,"r":85,"s":"e"},{"t":0.573,"r":85,"s":"d"},{"t":0.588,"r":85,"s":"f"},{"t":0.604,"r":85,"s":"g"},{"t":0.618,"r":85,"s":"h"},{"t":0.653,"r":85,"s":"c"},
{"t":0.445,"r":84,"s":"a"},{"t":0.493,"r":84,"s":"g"},{"t":0.503,"r":84,"s":"e"},{"t":0.519,"r":84,"s":"j"},{"t":0.533,"r":84,"s":"b"},{"t":0.573,"r":84,"s":"f"},{"t":0.614,"r":84,"s":"h"},{"t":0.619,"r":84,"s":"j"},{"t":0.629,"r":84,"s":"c"},{"t":0.645,"r":84,"s":"c"},{"t":0.661,"r":84,"s":"h"},
{"t":0.450,"r":83,"s":"b"},{"t":0.482,"r":83,"s":"j"},{"t":0.519,"r":83,"s":"d"},{"t":0.579,"r":83,"s":"j"},{"t":0.646,"r":83,"s":"j"},{"t":0.649,"r":83,"s":"a"},{"t":0.658,"r":83,"s":"d"},{"t":0.665,"r":83,"s":"i"},
{"t":0.436,"r":82,"s":"b"},{"t":0.454,"r":82,"s":"f"},{"t":0.455,"r":82,"s":"f"},{"t":0.467,"r":82,"s":"h"},{"t":0.499,"r":82,"s":"j"},{"t":0.548,"r":82,"s":"h"},{"t":0.567,"r":82,"s":"f"},{"t":0.580,"r":82,"s":"a"},{"t":0.628,"r":82,"s":"g"},{"t":0.632,"r":82,"s":"d"},{"t":0.650,"r":82,"s":"i"},{"t":0.659,"r":82,"s":"a"},
{"t":0.435,"r":81,"s":"h"},{"t":0.452,"r":81,"s":"a"},{"t":0.495,"r":81,"s":"c"},{"t":0.519,"r":81,"s":"i"},{"t":0.523,"r":81,"s":"f"},{"t":0.528,"r":81,"s":"a"},{"t":0.535,"r":81,"s":"g"},{"t":0.572,"r":81,"s":"a"},{"t":0.582,"r":81,"s":"g"},{"t":0.592,"r":81,"s":"i"},{"t":0.594,"r":81,"s":"f"},{"t":0.633,"r":81,"s":"a"},
{"t":0.451,"r":80,"s":"h"},{"t":0.464,"r":80,"s":"d"},{"t":0.477,"r":80,"s":"d"},{"t":0.493,"r":80,"s":"b"},{"t":0.496,"r":80,"s":"i"},{"t":0.510,"r":80,"s":"e"},{"t":0.514,"r":80,"s":"c"},{"t":0.517,"r":80,"s":"i"},{"t":0.542,"r":80,"s":"a"},{"t":0.544,"r":80,"s":"f"},{"t":0.558,"r":80,"s":"f"},{"t":0.593,"r":80,"s":"b"},{"t":0.603,"r":80,"s":"i"},{"t":0.622,"r":80,"s":"d"},{"t":0.629,"r":80,"s":"i"},{"t":0.641,"r":80,"s":"j"},{"t":0.651,"r":80,"s":"e"},
{"t":0.447,"r":79,"s":"h"},{"t":0.469,"r":79,"s":"h"},{"t":0.472,"r":79,"s":"j"},{"t":0.474,"r":79,"s":"d"},{"t":0.547,"r":79,"s":"d"},{"t":0.562,"r":79,"s":"i"},{"t":0.606,"r":79,"s":"f"},{"t":0.617,"r":79,"s":"f"},{"t":0.665,"r":79,"s":"b"},
{"t":0.441,"r":78,"s":"f"},{"t":0.459,"r":78,"s":"d"},{"t":0.460,"r":78,"s":"a"},{"t":0.466,"r":78,"s":"b"},{"t":0.497,"r":78,"s":"d"},{"t":0.501,"r":78,"s":"a"},{"t":0.503,"r":78,"s":"c"},{"t":0.514,"r":78,"s":"a"},{"t":0.524,"r":78,"s":"a"},{"t":0.535,"r":78,"s":"f"},{"t":0.549,"r":78,"s":"b"},{"t":0.558,"r":78,"s":"j"},{"t":0.569,"r":78,"s":"a"},{"t":0.581,"r":78,"s":"b"},{"t":0.605,"r":78,"s":"h"},{"t":0.651,"r":78,"s":"j"},{"t":0.655,"r":78,"s":"e"},
{"t":0.453,"r":77,"s":"j"},{"t":0.465,"r":77,"s":"e"},{"t":0.496,"r":77,"s":"b"},{"t":0.507,"r":77,"s":"d"},{"t":0.520,"r":77,"s":"j"},{"t":0.523,"r":77,"s":"j"},{"t":0.535,"r":77,"s":"e"},{"t":0.574,"r":77,"s":"i"},{"t":0.579,"r":77,"s":"i"},{"t":0.614,"r":77,"s":"a"},{"t":0.618,"r":77,"s":"a"},{"t":0.644,"r":77,"s":"j"},{"t":0.650,"r":77,"s":"a"},{"t":0.654,"r":77,"s":"f"},
{"t":0.432,"r":76,"s":"j"},{"t":0.445,"r":76,"s":"e"},{"t":0.451,"r":76,"s":"e"},{"t":0.458,"r":76,"s":"i"},{"t":0.460,"r":76,"s":"g"},{"t":0.590,"r":76,"s":"f"},{"t":0.602,"r":76,"s":"a"},{"t":0.609,"r":76,"s":"h"},{"t":0.617,"r":76,"s":"g"},{"t":0.635,"r":76,"s":"b"},{"t":0.653,"r":76,"s":"d"},{"t":0.662,"r":76,"s":"a"},{"t":0.666,"r":76,"s":"a"},
{"t":0.559,"r":75,"s":"a"},{"t":0.565,"r":75,"s":"a"},{"t":0.612,"r":75,"s":"g"},{"t":0.643,"r":75,"s":"g"},
{"t":0.437,"r":74,"s":"b"},{"t":0.443,"r":74,"s":"i"},{"t":0.452,"r":74,"s":"f"},{"t":0.476,"r":74,"s":"h"},{"t":0.489,"r":74,"s":"c"},{"t":0.552,"r":74,"s":"i"},{"t":0.611,"r":74,"s":"i"},{"t":0.614,"r":74,"s":"f"},{"t":0.658,"r":74,"s":"e"},
{"t":0.496,"r":73,"s":"g"},{"t":0.558,"r":73,"s":"h"},{"t":0.562,"r":73,"s":"a"},{"t":0.567,"r":73,"s":"e"},{"t":0.591,"r":73,"s":"h"},{"t":0.594,"r":73,"s":"i"},{"t":0.608,"r":73,"s":"g"},{"t":0.610,"r":73,"s":"b"},{"t":0.624,"r":73,"s":"b"},{"t":0.651,"r":73,"s":"g"},{"t":0.664,"r":73,"s":"a"},
{"t":0.438,"r":72,"s":"f"},{"t":0.519,"r":72,"s":"b"},{"t":0.548,"r":72,"s":"f"},{"t":0.608,"r":72,"s":"e"},{"t":0.665,"r":72,"s":"j"},
{"t":0.444,"r":71,"s":"f"},{"t":0.475,"r":71,"s":"a"},{"t":0.501,"r":71,"s":"e"},{"t":0.504,"r":71,"s":"e"},{"t":0.510,"r":71,"s":"d"},{"t":0.539,"r":71,"s":"i"},{"t":0.554,"r":71,"s":"g"},{"t":0.601,"r":71,"s":"i"},{"t":0.604,"r":71,"s":"b"},{"t":0.603,"r":71,"s":"e"},{"t":0.637,"r":71,"s":"g"},{"t":0.645,"r":71,"s":"g"},
{"t":0.451,"r":70,"s":"j"},{"t":0.503,"r":70,"s":"d"},{"t":0.543,"r":70,"s":"h"},{"t":0.563,"r":70,"s":"c"},{"t":0.565,"r":70,"s":"d"},{"t":0.584,"r":70,"s":"e"},{"t":0.594,"r":70,"s":"a"},{"t":0.598,"r":70,"s":"h"},{"t":0.603,"r":70,"s":"h"},{"t":0.622,"r":70,"s":"j"},{"t":0.636,"r":70,"s":"b"},{"t":0.641,"r":70,"s":"d"},{"t":0.666,"r":70,"s":"i"},
{"t":0.442,"r":69,"s":"b"},{"t":0.526,"r":69,"s":"d"},{"t":0.542,"r":69,"s":"c"},{"t":0.553,"r":69,"s":"b"},{"t":0.572,"r":69,"s":"j"},{"t":0.637,"r":69,"s":"h"},{"t":0.666,"r":69,"s":"e"},
{"t":0.543,"r":68,"s":"i"},{"t":0.591,"r":68,"s":"f"},{"t":0.643,"r":68,"s":"d"},
{"t":0.467,"r":67,"s":"i"},{"t":0.488,"r":67,"s":"a"},{"t":0.499,"r":67,"s":"c"},{"t":0.521,"r":67,"s":"b"},{"t":0.567,"r":67,"s":"b"},{"t":0.610,"r":67,"s":"a"},{"t":0.622,"r":67,"s":"i"},{"t":0.623,"r":67,"s":"d"},{"t":0.655,"r":67,"s":"a"},
{"t":0.441,"r":66,"s":"d"},{"t":0.463,"r":66,"s":"b"},{"t":0.466,"r":66,"s":"c"},{"t":0.503,"r":66,"s":"g"},{"t":0.526,"r":66,"s":"e"},{"t":0.548,"r":66,"s":"b"},{"t":0.563,"r":66,"s":"b"},{"t":0.601,"r":66,"s":"d"},{"t":0.620,"r":66,"s":"g"},{"t":0.624,"r":66,"s":"g"},{"t":0.626,"r":66,"s":"a"},{"t":0.645,"r":66,"s":"d"},
{"t":0.475,"r":65,"s":"f"},{"t":0.479,"r":65,"s":"h"},{"t":0.523,"r":65,"s":"d"},{"t":0.546,"r":65,"s":"g"},{"t":0.558,"r":65,"s":"c"},{"t":0.577,"r":65,"s":"j"},{"t":0.581,"r":65,"s":"e"},{"t":0.639,"r":65,"s":"a"},{"t":0.641,"r":65,"s":"f"},{"t":0.649,"r":65,"s":"f"},
{"t":0.445,"r":64,"s":"i"},{"t":0.449,"r":64,"s":"d"},{"t":0.462,"r":64,"s":"g"},{"t":0.476,"r":64,"s":"d"},{"t":0.505,"r":64,"s":"f"},{"t":0.545,"r":64,"s":"i"},{"t":0.552,"r":64,"s":"h"},{"t":0.556,"r":64,"s":"j"},{"t":0.566,"r":64,"s":"j"},{"t":0.591,"r":64,"s":"a"},{"t":0.599,"r":64,"s":"d"},
{"t":0.481,"r":63,"s":"h"},{"t":0.503,"r":63,"s":"h"},{"t":0.510,"r":63,"s":"c"},{"t":0.536,"r":63,"s":"c"},{"t":0.545,"r":63,"s":"h"},{"t":0.554,"r":63,"s":"b"},{"t":0.574,"r":63,"s":"f"},{"t":0.605,"r":63,"s":"j"},{"t":0.623,"r":63,"s":"h"},{"t":0.643,"r":63,"s":"f"},
{"t":0.500,"r":62,"s":"h"},{"t":0.506,"r":62,"s":"c"},{"t":0.546,"r":62,"s":"f"},{"t":0.571,"r":62,"s":"e"},{"t":0.586,"r":62,"s":"f"},{"t":0.606,"r":62,"s":"a"},{"t":0.641,"r":62,"s":"a"},{"t":0.652,"r":62,"s":"e"},{"t":0.665,"r":62,"s":"b"},
{"t":0.462,"r":61,"s":"d"},{"t":0.463,"r":61,"s":"d"},{"t":0.524,"r":61,"s":"d"},{"t":0.549,"r":61,"s":"j"},{"t":0.584,"r":61,"s":"h"},{"t":0.612,"r":61,"s":"i"},{"t":0.650,"r":61,"s":"f"},{"t":0.660,"r":61,"s":"b"},
{"t":0.449,"r":60,"s":"e"},{"t":0.470,"r":60,"s":"g"},{"t":0.479,"r":60,"s":"i"},{"t":0.487,"r":60,"s":"g"},{"t":0.516,"r":60,"s":"a"},{"t":0.524,"r":60,"s":"i"},{"t":0.541,"r":60,"s":"i"},{"t":0.563,"r":60,"s":"h"},{"t":0.589,"r":60,"s":"h"},{"t":0.593,"r":60,"s":"h"},{"t":0.628,"r":60,"s":"d"},{"t":0.662,"r":60,"s":"i"},
{"t":0.443,"r":59,"s":"h"},{"t":0.448,"r":59,"s":"a"},{"t":0.454,"r":59,"s":"a"},{"t":0.465,"r":59,"s":"c"},{"t":0.475,"r":59,"s":"h"},{"t":0.561,"r":59,"s":"f"},{"t":0.568,"r":59,"s":"f"},{"t":0.592,"r":59,"s":"d"},{"t":0.603,"r":59,"s":"c"},{"t":0.613,"r":59,"s":"d"},{"t":0.665,"r":59,"s":"e"},
{"t":0.445,"r":58,"s":"b"},{"t":0.465,"r":58,"s":"b"},{"t":0.514,"r":58,"s":"h"},{"t":0.523,"r":58,"s":"e"},{"t":0.526,"r":58,"s":"c"},{"t":0.529,"r":58,"s":"e"},{"t":0.533,"r":58,"s":"h"},{"t":0.557,"r":58,"s":"g"},{"t":0.592,"r":58,"s":"j"},{"t":0.620,"r":58,"s":"b"},{"t":0.621,"r":58,"s":"c"},{"t":0.648,"r":58,"s":"a"},
{"t":0.435,"r":57,"s":"j"},{"t":0.451,"r":57,"s":"g"},{"t":0.461,"r":57,"s":"e"},{"t":0.481,"r":57,"s":"c"},{"t":0.531,"r":57,"s":"b"},{"t":0.540,"r":57,"s":"g"},{"t":0.550,"r":57,"s":"d"},{"t":0.580,"r":57,"s":"i"},{"t":0.588,"r":57,"s":"b"},{"t":0.615,"r":57,"s":"i"},{"t":0.644,"r":57,"s":"b"},{"t":0.646,"r":57,"s":"g"},{"t":0.662,"r":57,"s":"e"},
{"t":0.441,"r":56,"s":"h"},{"t":0.444,"r":56,"s":"b"},{"t":0.518,"r":56,"s":"j"},{"t":0.519,"r":56,"s":"a"},{"t":0.532,"r":56,"s":"f"},{"t":0.575,"r":56,"s":"h"},{"t":0.583,"r":56,"s":"d"},{"t":0.599,"r":56,"s":"i"},{"t":0.606,"r":56,"s":"e"},{"t":0.631,"r":56,"s":"a"},
{"t":0.451,"r":55,"s":"a"},{"t":0.476,"r":55,"s":"i"},{"t":0.502,"r":55,"s":"a"},{"t":0.507,"r":55,"s":"h"},{"t":0.509,"r":55,"s":"e"},{"t":0.520,"r":55,"s":"a"},{"t":0.528,"r":55,"s":"e"},{"t":0.541,"r":55,"s":"d"},{"t":0.551,"r":55,"s":"c"},{"t":0.574,"r":55,"s":"e"},{"t":0.582,"r":55,"s":"f"},{"t":0.622,"r":55,"s":"f"},{"t":0.641,"r":55,"s":"c"},{"t":0.654,"r":55,"s":"g"},
{"t":0.438,"r":54,"s":"d"},{"t":0.464,"r":54,"s":"f"},{"t":0.540,"r":54,"s":"h"},{"t":0.601,"r":54,"s":"h"},{"t":0.617,"r":54,"s":"g"},{"t":0.659,"r":54,"s":"h"},
{"t":0.462,"r":53,"s":"c"},{"t":0.495,"r":53,"s":"b"},{"t":0.499,"r":53,"s":"a"},{"t":0.555,"r":53,"s":"d"},{"t":0.561,"r":53,"s":"i"},{"t":0.569,"r":53,"s":"g"},{"t":0.575,"r":53,"s":"i"},{"t":0.577,"r":53,"s":"e"},{"t":0.586,"r":53,"s":"d"},{"t":0.632,"r":53,"s":"h"},{"t":0.636,"r":53,"s":"g"},
{"t":0.447,"r":52,"s":"a"},{"t":0.479,"r":52,"s":"c"},{"t":0.503,"r":52,"s":"i"},{"t":0.512,"r":52,"s":"a"},{"t":0.533,"r":52,"s":"i"},{"t":0.571,"r":52,"s":"c"},{"t":0.577,"r":52,"s":"c"},{"t":0.616,"r":52,"s":"a"},{"t":0.656,"r":52,"s":"h"},{"t":0.662,"r":52,"s":"c"},
{"t":0.454,"r":51,"s":"g"},{"t":0.539,"r":51,"s":"c"},{"t":0.578,"r":51,"s":"g"},{"t":0.582,"r":51,"s":"d"},{"t":0.609,"r":51,"s":"d"},{"t":0.619,"r":51,"s":"d"},{"t":0.646,"r":51,"s":"b"},
{"t":0.473,"r":50,"s":"j"},{"t":0.475,"r":50,"s":"j"},{"t":0.476,"r":50,"s":"g"},{"t":0.484,"r":50,"s":"c"},{"t":0.508,"r":50,"s":"e"},{"t":0.529,"r":50,"s":"f"},{"t":0.537,"r":50,"s":"g"},{"t":0.563,"r":50,"s":"a"},{"t":0.575,"r":50,"s":"j"},{"t":0.599,"r":50,"s":"b"},{"t":0.602,"r":50,"s":"j"},{"t":0.635,"r":50,"s":"j"},{"t":0.648,"r":50,"s":"h"},
{"t":0.457,"r":49,"s":"d"},{"t":0.458,"r":49,"s":"h"},{"t":0.472,"r":49,"s":"g"},{"t":0.473,"r":49,"s":"d"},{"t":0.491,"r":49,"s":"g"},{"t":0.494,"r":49,"s":"a"},{"t":0.501,"r":49,"s":"f"},{"t":0.505,"r":49,"s":"j"},{"t":0.521,"r":49,"s":"i"},{"t":0.537,"r":49,"s":"c"},{"t":0.550,"r":49,"s":"g"},{"t":0.556,"r":49,"s":"b"},{"t":0.590,"r":49,"s":"h"},{"t":0.635,"r":49,"s":"a"},{"t":0.637,"r":49,"s":"c"},
{"t":0.439,"r":48,"s":"d"},{"t":0.466,"r":48,"s":"f"},{"t":0.483,"r":48,"s":"h"},{"t":0.494,"r":48,"s":"e"},{"t":0.502,"r":48,"s":"j"},{"t":0.528,"r":48,"s":"i"},{"t":0.539,"r":48,"s":"e"},{"t":0.553,"r":48,"s":"c"},{"t":0.573,"r":48,"s":"a"},{"t":0.588,"r":48,"s":"j"},{"t":0.606,"r":48,"s":"i"},{"t":0.618,"r":48,"s":"i"},{"t":0.636,"r":48,"s":"c"},
{"t":0.447,"r":47,"s":"f"},{"t":0.471,"r":47,"s":"d"},{"t":0.473,"r":47,"s":"i"},{"t":0.477,"r":47,"s":"j"},{"t":0.494,"r":47,"s":"j"},{"t":0.498,"r":47,"s":"h"},{"t":0.501,"r":47,"s":"g"},{"t":0.505,"r":47,"s":"c"},{"t":0.517,"r":47,"s":"d"},{"t":0.518,"r":47,"s":"i"},{"t":0.579,"r":47,"s":"g"},{"t":0.607,"r":47,"s":"d"},{"t":0.613,"r":47,"s":"i"},{"t":0.649,"r":47,"s":"e"},
{"t":0.447,"r":46,"s":"j"},{"t":0.459,"r":46,"s":"c"},{"t":0.475,"r":46,"s":"e"},{"t":0.567,"r":46,"s":"c"},{"t":0.585,"r":46,"s":"i"},{"t":0.589,"r":46,"s":"d"},{"t":0.614,"r":46,"s":"d"},{"t":0.616,"r":46,"s":"j"},{"t":0.629,"r":46,"s":"h"},{"t":0.664,"r":46,"s":"d"},
{"t":0.441,"r":45,"s":"h"},{"t":0.464,"r":45,"s":"g"},{"t":0.475,"r":45,"s":"c"},{"t":0.509,"r":45,"s":"a"},{"t":0.531,"r":45,"s":"f"},{"t":0.533,"r":45,"s":"f"},{"t":0.564,"r":45,"s":"g"},{"t":0.601,"r":45,"s":"c"},{"t":0.628,"r":45,"s":"c"},{"t":0.631,"r":45,"s":"i"},{"t":0.650,"r":45,"s":"g"},
{"t":0.458,"r":44,"s":"b"},{"t":0.462,"r":44,"s":"i"},{"t":0.466,"r":44,"s":"a"},{"t":0.538,"r":44,"s":"e"},{"t":0.590,"r":44,"s":"b"},{"t":0.601,"r":44,"s":"g"},{"t":0.611,"r":44,"s":"d"},{"t":0.615,"r":44,"s":"f"},{"t":0.641,"r":44,"s":"g"},{"t":0.661,"r":44,"s":"d"},
{"t":0.508,"r":43,"s":"i"},{"t":0.515,"r":43,"s":"e"},{"t":0.549,"r":43,"s":"g"},{"t":0.549,"r":43,"s":"f"},{"t":0.617,"r":43,"s":"j"},
{"t":0.448,"r":42,"s":"g"},{"t":0.487,"r":42,"s":"a"},{"t":0.541,"r":42,"s":"j"},{"t":0.545,"r":42,"s":"d"},{"t":0.567,"r":42,"s":"a"},{"t":0.581,"r":42,"s":"j"},{"t":0.583,"r":42,"s":"b"},{"t":0.610,"r":42,"s":"c"},{"t":0.662,"r":42,"s":"h"},
{"t":0.482,"r":41,"s":"g"},{"t":0.484,"r":41,"s":"h"},{"t":0.494,"r":41,"s":"g"},{"t":0.497,"r":41,"s":"a"},{"t":0.543,"r":41,"s":"b"},{"t":0.552,"r":41,"s":"j"},{"t":0.557,"r":41,"s":"e"},{"t":0.639,"r":41,"s":"b"},{"t":0.646,"r":41,"s":"e"},
{"t":0.475,"r":40,"s":"i"},{"t":0.485,"r":40,"s":"g"},{"t":0.522,"r":40,"s":"i"},{"t":0.552,"r":40,"s":"d"},{"t":0.564,"r":40,"s":"f"},{"t":0.567,"r":40,"s":"d"},{"t":0.575,"r":40,"s":"g"},{"t":0.579,"r":40,"s":"h"},{"t":0.580,"r":40,"s":"d"},{"t":0.585,"r":40,"s":"g"},{"t":0.610,"r":40,"s":"i"},{"t":0.627,"r":40,"s":"i"},
{"t":0.463,"r":39,"s":"a"},{"t":0.467,"r":39,"s":"a"},{"t":0.476,"r":39,"s":"a"},{"t":0.490,"r":39,"s":"f"},{"t":0.505,"r":39,"s":"b"},{"t":0.532,"r":39,"s":"a"},{"t":0.557,"r":39,"s":"i"},{"t":0.584,"r":39,"s":"d"},{"t":0.586,"r":39,"s":"j"},{"t":0.615,"r":39,"s":"c"},{"t":0.617,"r":39,"s":"i"},{"t":0.619,"r":39,"s":"f"},{"t":0.634,"r":39,"s":"h"},{"t":0.638,"r":39,"s":"f"},{"t":0.663,"r":39,"s":"j"},
{"t":0.442,"r":38,"s":"i"},{"t":0.488,"r":38,"s":"j"},{"t":0.507,"r":38,"s":"g"},{"t":0.528,"r":38,"s":"b"},{"t":0.540,"r":38,"s":"c"},{"t":0.549,"r":38,"s":"g"},{"t":0.572,"r":38,"s":"e"},{"t":0.603,"r":38,"s":"a"},{"t":0.649,"r":38,"s":"b"},{"t":0.658,"r":38,"s":"c"},{"t":0.662,"r":38,"s":"b"},
{"t":0.471,"r":37,"s":"f"},{"t":0.499,"r":37,"s":"d"},{"t":0.510,"r":37,"s":"j"},{"t":0.516,"r":37,"s":"i"},{"t":0.526,"r":37,"s":"j"},{"t":0.579,"r":37,"s":"b"},{"t":0.597,"r":37,"s":"b"},{"t":0.609,"r":37,"s":"g"},{"t":0.614,"r":37,"s":"g"},{"t":0.643,"r":37,"s":"i"},
{"t":0.444,"r":36,"s":"d"},{"t":0.456,"r":36,"s":"g"},{"t":0.458,"r":36,"s":"f"},{"t":0.462,"r":36,"s":"f"},{"t":0.465,"r":36,"s":"h"},{"t":0.497,"r":36,"s":"h"},{"t":0.506,"r":36,"s":"b"},{"t":0.514,"r":36,"s":"e"},{"t":0.517,"r":36,"s":"g"},{"t":0.544,"r":36,"s":"c"},{"t":0.560,"r":36,"s":"g"},{"t":0.563,"r":36,"s":"f"},{"t":0.576,"r":36,"s":"b"},{"t":0.603,"r":36,"s":"g"},{"t":0.607,"r":36,"s":"g"},{"t":0.663,"r":36,"s":"e"},
{"t":0.472,"r":35,"s":"c"},{"t":0.491,"r":35,"s":"e"},{"t":0.509,"r":35,"s":"h"},{"t":0.533,"r":35,"s":"e"},{"t":0.547,"r":35,"s":"c"},{"t":0.591,"r":35,"s":"h"},{"t":0.599,"r":35,"s":"e"},{"t":0.604,"r":35,"s":"i"},{"t":0.627,"r":35,"s":"d"},{"t":0.635,"r":35,"s":"g"},{"t":0.654,"r":35,"s":"h"},{"t":0.658,"r":35,"s":"h"},
{"t":0.434,"r":34,"s":"h"},{"t":0.460,"r":34,"s":"b"},{"t":0.480,"r":34,"s":"j"},{"t":0.495,"r":34,"s":"f"},{"t":0.495,"r":34,"s":"j"},{"t":0.531,"r":34,"s":"i"},{"t":0.543,"r":34,"s":"j"},{"t":0.582,"r":34,"s":"a"},{"t":0.640,"r":34,"s":"c"},{"t":0.648,"r":34,"s":"f"},{"t":0.650,"r":34,"s":"b"},
{"t":0.435,"r":33,"s":"d"},{"t":0.560,"r":33,"s":"e"},{"t":0.572,"r":33,"s":"i"},{"t":0.657,"r":33,"s":"a"},
{"t":0.440,"r":32,"s":"i"},{"t":0.505,"r":32,"s":"d"},{"t":0.551,"r":32,"s":"b"},{"t":0.598,"r":32,"s":"i"},{"t":0.630,"r":32,"s":"g"},{"t":0.652,"r":32,"s":"j"},{"t":0.661,"r":32,"s":"j"},{"t":0.665,"r":32,"s":"h"},
{"t":0.436,"r":31,"s":"j"},{"t":0.576,"r":31,"s":"e"},{"t":0.579,"r":31,"s":"c"},{"t":0.587,"r":31,"s":"c"},{"t":0.599,"r":31,"s":"g"},{"t":0.605,"r":31,"s":"c"},{"t":0.660,"r":31,"s":"c"},
{"t":0.434,"r":30,"s":"f"},{"t":0.495,"r":30,"s":"i"},{"t":0.496,"r":30,"s":"f"},{"t":0.536,"r":30,"s":"f"},{"t":0.548,"r":30,"s":"j"},{"t":0.583,"r":30,"s":"f"},{"t":0.585,"r":30,"s":"h"},{"t":0.616,"r":30,"s":"h"},{"t":0.636,"r":30,"s":"h"},{"t":0.641,"r":30,"s":"e"},{"t":0.660,"r":30,"s":"i"},
{"t":0.448,"r":29,"s":"j"},{"t":0.454,"r":29,"s":"h"},{"t":0.473,"r":29,"s":"h"},{"t":0.500,"r":29,"s":"d"},{"t":0.507,"r":29,"s":"j"},{"t":0.509,"r":29,"s":"j"},{"t":0.516,"r":29,"s":"b"},{"t":0.522,"r":29,"s":"a"},{"t":0.526,"r":29,"s":"f"},{"t":0.549,"r":29,"s":"i"},{"t":0.551,"r":29,"s":"h"},{"t":0.567,"r":29,"s":"g"},{"t":0.592,"r":29,"s":"c"},{"t":0.626,"r":29,"s":"j"},{"t":0.642,"r":29,"s":"j"},{"t":0.647,"r":29,"s":"i"},
{"t":0.432,"r":28,"s":"f"},{"t":0.439,"r":28,"s":"h"},{"t":0.448,"r":28,"s":"f"},{"t":0.469,"r":28,"s":"c"},{"t":0.472,"r":28,"s":"b"},{"t":0.478,"r":28,"s":"i"},{"t":0.480,"r":28,"s":"d"},{"t":0.530,"r":28,"s":"h"},{"t":0.557,"r":28,"s":"c"},{"t":0.578,"r":28,"s":"f"},{"t":0.605,"r":28,"s":"e"},{"t":0.623,"r":28,"s":"b"},{"t":0.645,"r":28,"s":"j"},{"t":0.649,"r":28,"s":"c"},{"t":0.657,"r":28,"s":"i"},
{"t":0.452,"r":27,"s":"i"},{"t":0.460,"r":27,"s":"h"},{"t":0.490,"r":27,"s":"j"},{"t":0.516,"r":27,"s":"j"},{"t":0.547,"r":27,"s":"b"},{"t":0.561,"r":27,"s":"c"},{"t":0.583,"r":27,"s":"g"},{"t":0.593,"r":27,"s":"a"},{"t":0.610,"r":27,"s":"h"},{"t":0.657,"r":27,"s":"d"},
{"t":0.452,"r":26,"s":"d"},{"t":0.457,"r":26,"s":"g"},{"t":0.482,"r":26,"s":"i"},{"t":0.492,"r":26,"s":"j"},{"t":0.497,"r":26,"s":"e"},{"t":0.536,"r":26,"s":"d"},{"t":0.575,"r":26,"s":"d"},{"t":0.576,"r":26,"s":"i"},{"t":0.620,"r":26,"s":"c"},{"t":0.635,"r":26,"s":"f"},{"t":0.657,"r":26,"s":"b"},
{"t":0.447,"r":25,"s":"g"},{"t":0.471,"r":25,"s":"h"},{"t":0.474,"r":25,"s":"g"},{"t":0.514,"r":25,"s":"d"},{"t":0.531,"r":25,"s":"c"},{"t":0.533,"r":25,"s":"c"},{"t":0.594,"r":25,"s":"c"},{"t":0.578,"r":25,"s":"d"},{"t":0.603,"r":25,"s":"b"},{"t":0.644,"r":25,"s":"g"},{"t":0.655,"r":25,"s":"b"},
{"t":0.453,"r":24,"s":"a"},{"t":0.457,"r":24,"s":"h"},{"t":0.460,"r":24,"s":"c"},{"t":0.476,"r":24,"s":"b"},{"t":0.487,"r":24,"s":"e"},{"t":0.506,"r":24,"s":"h"},{"t":0.533,"r":24,"s":"d"},{"t":0.554,"r":24,"s":"c"},{"t":0.573,"r":24,"s":"c"},{"t":0.572,"r":24,"s":"f"},{"t":0.604,"r":24,"s":"f"},{"t":0.607,"r":24,"s":"h"},{"t":0.609,"r":24,"s":"f"},{"t":0.619,"r":24,"s":"h"},{"t":0.632,"r":24,"s":"a"},{"t":0.648,"r":24,"s":"j"},{"t":0.652,"r":24,"s":"f"},{"t":0.661,"r":24,"s":"e"},
{"t":0.442,"r":23,"s":"c"},{"t":0.456,"r":23,"s":"a"},{"t":0.464,"r":23,"s":"c"},{"t":0.501,"r":23,"s":"j"},{"t":0.514,"r":23,"s":"i"},{"t":0.518,"r":23,"s":"h"},{"t":0.548,"r":23,"s":"c"},{"t":0.617,"r":23,"s":"d"},{"t":0.646,"r":23,"s":"d"},{"t":0.664,"r":23,"s":"f"},
{"t":0.465,"r":22,"s":"a"},{"t":0.491,"r":22,"s":"b"},{"t":0.511,"r":22,"s":"a"},{"t":0.558,"r":22,"s":"e"},{"t":0.571,"r":22,"s":"d"},{"t":0.584,"r":22,"s":"c"},{"t":0.594,"r":22,"s":"e"},{"t":0.626,"r":22,"s":"h"},{"t":0.664,"r":22,"s":"i"},
{"t":0.436,"r":21,"s":"i"},{"t":0.457,"r":21,"s":"f"},{"t":0.458,"r":21,"s":"a"},{"t":0.469,"r":21,"s":"a"},{"t":0.473,"r":21,"s":"i"},{"t":0.474,"r":21,"s":"e"},{"t":0.476,"r":21,"s":"c"},{"t":0.488,"r":21,"s":"c"},{"t":0.522,"r":21,"s":"b"},{"t":0.527,"r":21,"s":"h"},{"t":0.609,"r":21,"s":"e"},{"t":0.624,"r":21,"s":"i"},{"t":0.631,"r":21,"s":"h"},{"t":0.665,"r":21,"s":"c"},
{"t":0.463,"r":20,"s":"i"},{"t":0.466,"r":20,"s":"d"},{"t":0.476,"r":20,"s":"e"},{"t":0.510,"r":20,"s":"h"},{"t":0.550,"r":20,"s":"f"},{"t":0.568,"r":20,"s":"d"},{"t":0.595,"r":20,"s":"g"},{"t":0.601,"r":20,"s":"j"},{"t":0.647,"r":20,"s":"d"},
{"t":0.489,"r":19,"s":"a"},{"t":0.505,"r":19,"s":"g"},{"t":0.563,"r":19,"s":"j"},{"t":0.576,"r":19,"s":"g"},{"t":0.595,"r":19,"s":"b"},{"t":0.612,"r":19,"s":"c"},{"t":0.631,"r":19,"s":"c"},
{"t":0.459,"r":18,"s":"a"},{"t":0.477,"r":18,"s":"h"},{"t":0.498,"r":18,"s":"e"},{"t":0.506,"r":18,"s":"i"},{"t":0.568,"r":18,"s":"e"},{"t":0.596,"r":18,"s":"a"},{"t":0.630,"r":18,"s":"e"},{"t":0.632,"r":18,"s":"b"},{"t":0.633,"r":18,"s":"b"},
{"t":0.446,"r":17,"s":"h"},{"t":0.447,"r":17,"s":"b"},{"t":0.475,"r":17,"s":"b"},{"t":0.500,"r":17,"s":"i"},{"t":0.520,"r":17,"s":"e"},{"t":0.526,"r":17,"s":"a"},{"t":0.530,"r":17,"s":"a"},{"t":0.541,"r":17,"s":"a"},{"t":0.606,"r":17,"s":"d"},{"t":0.658,"r":17,"s":"f"},
{"t":0.439,"r":16,"s":"b"},{"t":0.465,"r":16,"s":"i"},{"t":0.473,"r":16,"s":"a"},{"t":0.488,"r":16,"s":"f"},{"t":0.499,"r":16,"s":"b"},{"t":0.527,"r":16,"s":"b"},{"t":0.538,"r":16,"s":"i"},{"t":0.563,"r":16,"s":"e"},{"t":0.633,"r":16,"s":"c"},{"t":0.657,"r":16,"s":"j"},{"t":0.666,"r":16,"s":"d"},
{"t":0.455,"r":15,"s":"i"},{"t":0.502,"r":15,"s":"b"},{"t":0.529,"r":15,"s":"d"},{"t":0.565,"r":15,"s":"c"},{"t":0.587,"r":15,"s":"d"},{"t":0.624,"r":15,"s":"h"},{"t":0.627,"r":15,"s":"e"},{"t":0.611,"r":15,"s":"f"},
{"t":0.512,"r":14,"s":"d"},{"t":0.522,"r":14,"s":"e"},{"t":0.541,"r":14,"s":"g"},{"t":0.555,"r":14,"s":"j"},{"t":0.569,"r":14,"s":"j"},{"t":0.607,"r":14,"s":"c"},{"t":0.633,"r":14,"s":"e"},{"t":0.643,"r":14,"s":"c"},{"t":0.654,"r":14,"s":"i"},{"t":0.661,"r":14,"s":"f"},{"t":0.662,"r":14,"s":"d"},
{"t":0.443,"r":13,"s":"f"},{"t":0.471,"r":13,"s":"c"},{"t":0.496,"r":13,"s":"c"},{"t":0.512,"r":13,"s":"j"},{"t":0.525,"r":13,"s":"h"},{"t":0.548,"r":13,"s":"i"},{"t":0.578,"r":13,"s":"b"},{"t":0.579,"r":13,"s":"a"},{"t":0.632,"r":13,"s":"e"},
{"t":0.438,"r":12,"s":"i"},{"t":0.446,"r":12,"s":"i"},{"t":0.485,"r":12,"s":"a"},{"t":0.493,"r":12,"s":"f"},{"t":0.516,"r":12,"s":"h"},{"t":0.543,"r":12,"s":"d"},{"t":0.561,"r":12,"s":"g"},{"t":0.585,"r":12,"s":"a"},{"t":0.589,"r":12,"s":"e"},{"t":0.614,"r":12,"s":"j"},{"t":0.638,"r":12,"s":"e"},{"t":0.640,"r":12,"s":"g"},{"t":0.651,"r":12,"s":"i"},{"t":0.656,"r":12,"s":"c"},
{"t":0.450,"r":11,"s":"d"},{"t":0.468,"r":11,"s":"f"},{"t":0.517,"r":11,"s":"b"},{"t":0.531,"r":11,"s":"e"},{"t":0.569,"r":11,"s":"f"},{"t":0.601,"r":11,"s":"e"},{"t":0.665,"r":11,"s":"j"},
{"t":0.486,"r":10,"s":"j"},{"t":0.493,"r":10,"s":"i"},{"t":0.574,"r":10,"s":"c"},{"t":0.633,"r":10,"s":"d"},{"t":0.635,"r":10,"s":"e"},{"t":0.650,"r":10,"s":"c"},{"t":0.659,"r":10,"s":"d"},
{"t":0.440,"r":9,"s":"b"},{"t":0.460,"r":9,"s":"d"},{"t":0.480,"r":9,"s":"i"},{"t":0.491,"r":9,"s":"i"},{"t":0.515,"r":9,"s":"j"},{"t":0.516,"r":9,"s":"e"},{"t":0.519,"r":9,"s":"h"},{"t":0.525,"r":9,"s":"b"},{"t":0.584,"r":9,"s":"j"},{"t":0.596,"r":9,"s":"h"},{"t":0.630,"r":9,"s":"d"},{"t":0.646,"r":9,"s":"c"},{"t":0.659,"r":9,"s":"j"},
{"t":0.431,"r":8,"s":"f"},{"t":0.449,"r":8,"s":"j"},{"t":0.469,"r":8,"s":"i"},{"t":0.471,"r":8,"s":"i"},{"t":0.492,"r":8,"s":"a"},{"t":0.540,"r":8,"s":"f"},{"t":0.555,"r":8,"s":"h"},{"t":0.558,"r":8,"s":"g"},{"t":0.589,"r":8,"s":"a"},{"t":0.596,"r":8,"s":"j"},{"t":0.612,"r":8,"s":"h"},{"t":0.640,"r":8,"s":"b"},{"t":0.664,"r":8,"s":"c"},
{"t":0.456,"r":7,"s":"i"},{"t":0.464,"r":7,"s":"e"},{"t":0.531,"r":7,"s":"d"},{"t":0.561,"r":7,"s":"j"},{"t":0.580,"r":7,"s":"c"},{"t":0.601,"r":7,"s":"b"},{"t":0.620,"r":7,"s":"h"},{"t":0.649,"r":7,"s":"j"},{"t":0.650,"r":7,"s":"d"},
{"t":0.432,"r":6,"s":"b"},{"t":0.436,"r":6,"s":"f"},{"t":0.450,"r":6,"s":"h"},{"t":0.494,"r":6,"s":"h"},{"t":0.498,"r":6,"s":"f"},{"t":0.516,"r":6,"s":"d"},{"t":0.529,"r":6,"s":"c"},{"t":0.585,"r":6,"s":"e"},{"t":0.596,"r":6,"s":"g"},{"t":0.599,"r":6,"s":"a"},{"t":0.619,"r":6,"s":"b"},{"t":0.638,"r":6,"s":"j"},{"t":0.642,"r":6,"s":"i"},{"t":0.651,"r":6,"s":"h"},
{"t":0.442,"r":5,"s":"e"},{"t":0.449,"r":5,"s":"g"},{"t":0.453,"r":5,"s":"d"},{"t":0.477,"r":5,"s":"a"},{"t":0.479,"r":5,"s":"g"},{"t":0.509,"r":5,"s":"c"},{"t":0.519,"r":5,"s":"e"},{"t":0.565,"r":5,"s":"h"},{"t":0.584,"r":5,"s":"b"},{"t":0.587,"r":5,"s":"e"},{"t":0.599,"r":5,"s":"j"},{"t":0.603,"r":5,"s":"f"},{"t":0.613,"r":5,"s":"e"},{"t":0.626,"r":5,"s":"c"},{"t":0.635,"r":5,"s":"h"},
{"t":0.431,"r":4,"s":"c"},{"t":0.441,"r":4,"s":"j"},{"t":0.444,"r":4,"s":"a"},{"t":0.487,"r":4,"s":"h"},{"t":0.522,"r":4,"s":"h"},{"t":0.525,"r":4,"s":"e"},{"t":0.536,"r":4,"s":"i"},{"t":0.567,"r":4,"s":"h"},{"t":0.590,"r":4,"s":"i"},{"t":0.598,"r":4,"s":"f"},{"t":0.620,"r":4,"s":"i"},{"t":0.628,"r":4,"s":"b"},{"t":0.666,"r":4,"s":"h"},
{"t":0.439,"r":3,"s":"j"},{"t":0.448,"r":3,"s":"i"},{"t":0.462,"r":3,"s":"h"},{"t":0.467,"r":3,"s":"g"},{"t":0.503,"r":3,"s":"b"},{"t":0.557,"r":3,"s":"j"},{"t":0.582,"r":3,"s":"c"},{"t":0.587,"r":3,"s":"a"},{"t":0.613,"r":3,"s":"h"},{"t":0.628,"r":3,"s":"a"},{"t":0.640,"r":3,"s":"i"},{"t":0.645,"r":3,"s":"e"},{"t":0.652,"r":3,"s":"d"},{"t":0.654,"r":3,"s":"j"},
{"t":0.433,"r":2,"s":"i"},{"t":0.449,"r":2,"s":"i"},{"t":0.495,"r":2,"s":"h"},{"t":0.536,"r":2,"s":"h"},{"t":0.543,"r":2,"s":"g"},{"t":0.593,"r":2,"s":"g"},{"t":0.656,"r":2,"s":"g"},
{"t":0.435,"r":1,"s":"b"},{"t":0.478,"r":1,"s":"b"},{"t":0.513,"r":1,"s":"c"},{"t":0.528,"r":1,"s":"c"},{"t":0.545,"r":1,"s":"c"},{"t":0.605,"r":1,"s":"b"},{"t":0.624,"r":1,"s":"f"},{"t":0.626,"r":1,"s":"g"},
{"t":0.678,"r":100,"s":"e"},{"t":0.699,"r":100,"s":"c"},{"t":0.757,"r":100,"s":"a"},{"t":0.769,"r":100,"s":"f"},{"t":0.786,"r":100,"s":"j"},{"t":0.811,"r":100,"s":"f"},{"t":0.845,"r":100,"s":"c"},{"t":0.853,"r":100,"s":"d"},{"t":0.856,"r":100,"s":"e"},{"t":0.862,"r":100,"s":"e"},{"t":0.874,"r":100,"s":"d"},
{"t":0.700,"r":99,"s":"c"},{"t":0.709,"r":99,"s":"h"},{"t":0.713,"r":99,"s":"f"},{"t":0.723,"r":99,"s":"j"},{"t":0.731,"r":99,"s":"d"},{"t":0.748,"r":99,"s":"h"},{"t":0.759,"r":99,"s":"c"},{"t":0.825,"r":99,"s":"a"},{"t":0.872,"r":99,"s":"f"},
{"t":0.677,"r":98,"s":"i"},{"t":0.739,"r":98,"s":"e"},{"t":0.739,"r":98,"s":"i"},{"t":0.741,"r":98,"s":"d"},{"t":0.764,"r":98,"s":"f"},{"t":0.816,"r":98,"s":"h"},{"t":0.818,"r":98,"s":"f"},{"t":0.872,"r":98,"s":"j"},{"t":0.874,"r":98,"s":"h"},{"t":0.882,"r":98,"s":"c"},{"t":0.891,"r":98,"s":"i"},
{"t":0.716,"r":97,"s":"c"},{"t":0.735,"r":97,"s":"j"},{"t":0.761,"r":97,"s":"g"},{"t":0.826,"r":97,"s":"d"},{"t":0.843,"r":97,"s":"g"},{"t":0.876,"r":97,"s":"g"},{"t":0.894,"r":97,"s":"d"},
{"t":0.671,"r":96,"s":"e"},{"t":0.682,"r":96,"s":"f"},{"t":0.685,"r":96,"s":"g"},{"t":0.688,"r":96,"s":"f"},{"t":0.717,"r":96,"s":"d"},{"t":0.721,"r":96,"s":"e"},{"t":0.727,"r":96,"s":"e"},{"t":0.787,"r":96,"s":"i"},{"t":0.792,"r":96,"s":"b"},{"t":0.799,"r":96,"s":"b"},{"t":0.804,"r":96,"s":"b"},{"t":0.809,"r":96,"s":"c"},{"t":0.815,"r":96,"s":"c"},{"t":0.816,"r":96,"s":"j"},{"t":0.833,"r":96,"s":"e"},{"t":0.849,"r":96,"s":"d"},{"t":0.898,"r":96,"s":"j"},
{"t":0.672,"r":95,"s":"j"},{"t":0.678,"r":95,"s":"d"},{"t":0.699,"r":95,"s":"b"},{"t":0.709,"r":95,"s":"j"},{"t":0.767,"r":95,"s":"e"},{"t":0.770,"r":95,"s":"b"},{"t":0.777,"r":95,"s":"j"},{"t":0.811,"r":95,"s":"h"},{"t":0.831,"r":95,"s":"a"},{"t":0.835,"r":95,"s":"f"},{"t":0.850,"r":95,"s":"f"},{"t":0.866,"r":95,"s":"h"},{"t":0.870,"r":95,"s":"a"},{"t":0.876,"r":95,"s":"d"},{"t":0.882,"r":95,"s":"d"},
{"t":0.676,"r":94,"s":"c"},{"t":0.698,"r":94,"s":"g"},{"t":0.749,"r":94,"s":"e"},{"t":0.761,"r":94,"s":"e"},{"t":0.767,"r":94,"s":"a"},{"t":0.775,"r":94,"s":"h"},{"t":0.780,"r":94,"s":"j"},{"t":0.795,"r":94,"s":"b"},{"t":0.796,"r":94,"s":"d"},{"t":0.805,"r":94,"s":"c"},{"t":0.874,"r":94,"s":"a"},
{"t":0.687,"r":93,"s":"g"},{"t":0.743,"r":93,"s":"d"},{"t":0.774,"r":93,"s":"g"},{"t":0.787,"r":93,"s":"f"},{"t":0.863,"r":93,"s":"f"},
{"t":0.684,"r":92,"s":"i"},{"t":0.688,"r":92,"s":"a"},{"t":0.692,"r":92,"s":"j"},{"t":0.703,"r":92,"s":"c"},{"t":0.721,"r":92,"s":"a"},{"t":0.745,"r":92,"s":"i"},{"t":0.748,"r":92,"s":"e"},{"t":0.762,"r":92,"s":"h"},{"t":0.773,"r":92,"s":"j"},{"t":0.796,"r":92,"s":"a"},{"t":0.820,"r":92,"s":"d"},{"t":0.849,"r":92,"s":"h"},{"t":0.869,"r":92,"s":"j"},{"t":0.889,"r":92,"s":"g"},{"t":0.895,"r":92,"s":"a"},
{"t":0.674,"r":91,"s":"g"},{"t":0.686,"r":91,"s":"a"},{"t":0.716,"r":91,"s":"a"},{"t":0.717,"r":91,"s":"b"},{"t":0.720,"r":91,"s":"j"},{"t":0.725,"r":91,"s":"e"},{"t":0.744,"r":91,"s":"f"},{"t":0.748,"r":91,"s":"a"},{"t":0.757,"r":91,"s":"i"},{"t":0.767,"r":91,"s":"j"},{"t":0.846,"r":91,"s":"d"},{"t":0.871,"r":91,"s":"c"},{"t":0.879,"r":91,"s":"j"},{"t":0.896,"r":91,"s":"i"},{"t":0.899,"r":91,"s":"e"},
{"t":0.688,"r":90,"s":"e"},{"t":0.764,"r":90,"s":"d"},{"t":0.872,"r":90,"s":"e"},{"t":0.887,"r":90,"s":"i"},
{"t":0.719,"r":89,"s":"d"},{"t":0.745,"r":89,"s":"e"},{"t":0.756,"r":89,"s":"g"},{"t":0.775,"r":89,"s":"d"},{"t":0.783,"r":89,"s":"c"},{"t":0.792,"r":89,"s":"g"},{"t":0.822,"r":89,"s":"b"},{"t":0.825,"r":89,"s":"e"},{"t":0.858,"r":89,"s":"a"},{"t":0.860,"r":89,"s":"i"},{"t":0.882,"r":89,"s":"j"},{"t":0.893,"r":89,"s":"c"},{"t":0.899,"r":89,"s":"d"},
{"t":0.670,"r":88,"s":"j"},{"t":0.706,"r":88,"s":"a"},{"t":0.878,"r":88,"s":"e"},{"t":0.787,"r":88,"s":"d"},{"t":0.770,"r":88,"s":"g"},{"t":0.890,"r":88,"s":"d"},
{"t":0.667,"r":87,"s":"g"},{"t":0.681,"r":87,"s":"i"},{"t":0.703,"r":87,"s":"e"},{"t":0.704,"r":87,"s":"d"},{"t":0.719,"r":87,"s":"e"},{"t":0.737,"r":87,"s":"f"},{"t":0.746,"r":87,"s":"f"},{"t":0.756,"r":87,"s":"e"},{"t":0.772,"r":87,"s":"h"},{"t":0.774,"r":87,"s":"b"},{"t":0.811,"r":87,"s":"c"},{"t":0.820,"r":87,"s":"c"},{"t":0.822,"r":87,"s":"e"},{"t":0.864,"r":87,"s":"j"},{"t":0.870,"r":87,"s":"b"},{"t":0.895,"r":87,"s":"h"},
{"t":0.705,"r":86,"s":"c"},{"t":0.708,"r":86,"s":"e"},{"t":0.719,"r":86,"s":"b"},{"t":0.775,"r":86,"s":"j"},{"t":0.828,"r":86,"s":"e"},{"t":0.843,"r":86,"s":"c"},{"t":0.871,"r":86,"s":"g"},{"t":0.895,"r":86,"s":"f"},
{"t":0.706,"r":85,"s":"e"},{"t":0.715,"r":85,"s":"g"},{"t":0.745,"r":85,"s":"b"},{"t":0.793,"r":85,"s":"j"},{"t":0.812,"r":85,"s":"e"},{"t":0.841,"r":85,"s":"c"},{"t":0.844,"r":85,"s":"d"},{"t":0.846,"r":85,"s":"b"},{"t":0.859,"r":85,"s":"d"},{"t":0.884,"r":85,"s":"j"},
{"t":0.672,"r":84,"s":"a"},{"t":0.680,"r":84,"s":"i"},{"t":0.700,"r":84,"s":"d"},{"t":0.707,"r":84,"s":"f"},{"t":0.745,"r":84,"s":"g"},{"t":0.766,"r":84,"s":"f"},{"t":0.812,"r":84,"s":"i"},{"t":0.814,"r":84,"s":"i"},{"t":0.835,"r":84,"s":"d"},{"t":0.845,"r":84,"s":"h"},{"t":0.849,"r":84,"s":"f"},{"t":0.854,"r":84,"s":"i"},{"t":0.862,"r":84,"s":"h"},{"t":0.876,"r":84,"s":"c"},{"t":0.880,"r":84,"s":"e"},
{"t":0.669,"r":83,"s":"g"},{"t":0.700,"r":83,"s":"f"},{"t":0.708,"r":83,"s":"j"},{"t":0.726,"r":83,"s":"i"},{"t":0.727,"r":83,"s":"j"},{"t":0.732,"r":83,"s":"a"},{"t":0.758,"r":83,"s":"h"},{"t":0.762,"r":83,"s":"a"},{"t":0.773,"r":83,"s":"f"},{"t":0.783,"r":83,"s":"j"},{"t":0.829,"r":83,"s":"e"},{"t":0.835,"r":83,"s":"e"},{"t":0.838,"r":83,"s":"e"},{"t":0.882,"r":83,"s":"g"},{"t":0.885,"r":83,"s":"i"},{"t":0.893,"r":83,"s":"d"},
{"t":0.681,"r":82,"s":"g"},{"t":0.689,"r":82,"s":"h"},{"t":0.711,"r":82,"s":"b"},{"t":0.717,"r":82,"s":"e"},{"t":0.752,"r":82,"s":"e"},{"t":0.758,"r":82,"s":"d"},{"t":0.806,"r":82,"s":"e"},{"t":0.810,"r":82,"s":"b"},{"t":0.814,"r":82,"s":"d"},{"t":0.820,"r":82,"s":"f"},{"t":0.829,"r":82,"s":"j"},{"t":0.836,"r":82,"s":"a"},{"t":0.868,"r":82,"s":"h"},{"t":0.871,"r":82,"s":"i"},{"t":0.896,"r":82,"s":"b"},
{"t":0.672,"r":81,"s":"d"},{"t":0.697,"r":81,"s":"j"},{"t":0.701,"r":81,"s":"h"},{"t":0.702,"r":81,"s":"h"},{"t":0.722,"r":81,"s":"c"},{"t":0.751,"r":81,"s":"f"},{"t":0.760,"r":81,"s":"h"},{"t":0.776,"r":81,"s":"e"},{"t":0.804,"r":81,"s":"c"},{"t":0.840,"r":81,"s":"a"},{"t":0.845,"r":81,"s":"j"},{"t":0.876,"r":81,"s":"f"},{"t":0.885,"r":81,"s":"i"},{"t":0.892,"r":81,"s":"h"},
{"t":0.686,"r":80,"s":"e"},{"t":0.756,"r":80,"s":"f"},{"t":0.842,"r":80,"s":"d"},{"t":0.861,"r":80,"s":"i"},{"t":0.863,"r":80,"s":"e"},{"t":0.898,"r":80,"s":"e"},
{"t":0.675,"r":79,"s":"g"},{"t":0.697,"r":79,"s":"i"},{"t":0.701,"r":79,"s":"i"},{"t":0.707,"r":79,"s":"j"},{"t":0.712,"r":79,"s":"j"},{"t":0.728,"r":79,"s":"j"},{"t":0.741,"r":79,"s":"f"},{"t":0.788,"r":79,"s":"g"},{"t":0.799,"r":79,"s":"f"},{"t":0.805,"r":79,"s":"a"},{"t":0.870,"r":79,"s":"c"},{"t":0.881,"r":79,"s":"f"},
{"t":0.719,"r":78,"s":"h"},{"t":0.722,"r":78,"s":"b"},{"t":0.732,"r":78,"s":"j"},{"t":0.807,"r":78,"s":"c"},{"t":0.827,"r":78,"s":"h"},{"t":0.835,"r":78,"s":"c"},{"t":0.838,"r":78,"s":"a"},{"t":0.887,"r":78,"s":"e"},
{"t":0.692,"r":77,"s":"e"},{"t":0.693,"r":77,"s":"c"},{"t":0.695,"r":77,"s":"d"},{"t":0.732,"r":77,"s":"b"},{"t":0.739,"r":77,"s":"f"},{"t":0.760,"r":77,"s":"g"},{"t":0.812,"r":77,"s":"j"},{"t":0.813,"r":77,"s":"g"},{"t":0.822,"r":77,"s":"a"},
{"t":0.667,"r":76,"s":"a"},{"t":0.670,"r":76,"s":"f"},{"t":0.691,"r":76,"s":"c"},{"t":0.698,"r":76,"s":"b"},{"t":0.701,"r":76,"s":"j"},{"t":0.737,"r":76,"s":"j"},{"t":0.755,"r":76,"s":"c"},{"t":0.768,"r":76,"s":"i"},{"t":0.806,"r":76,"s":"h"},{"t":0.814,"r":76,"s":"a"},
{"t":0.713,"r":75,"s":"a"},{"t":0.759,"r":75,"s":"i"},{"t":0.765,"r":75,"s":"a"},{"t":0.778,"r":75,"s":"e"},{"t":0.785,"r":75,"s":"a"},{"t":0.830,"r":75,"s":"e"},{"t":0.838,"r":75,"s":"b"},{"t":0.852,"r":75,"s":"c"},{"t":0.869,"r":75,"s":"g"},
{"t":0.677,"r":74,"s":"f"},{"t":0.680,"r":74,"s":"a"},{"t":0.694,"r":74,"s":"g"},{"t":0.724,"r":74,"s":"b"},{"t":0.782,"r":74,"s":"j"},{"t":0.786,"r":74,"s":"b"},{"t":0.794,"r":74,"s":"b"},{"t":0.798,"r":74,"s":"i"},{"t":0.811,"r":74,"s":"e"},{"t":0.826,"r":74,"s":"f"},{"t":0.836,"r":74,"s":"h"},{"t":0.859,"r":74,"s":"g"},{"t":0.864,"r":74,"s":"i"},{"t":0.873,"r":74,"s":"g"},{"t":0.880,"r":74,"s":"f"},{"t":0.892,"r":74,"s":"e"},
{"t":0.673,"r":73,"s":"f"},{"t":0.694,"r":73,"s":"f"},{"t":0.694,"r":73,"s":"h"},{"t":0.746,"r":73,"s":"h"},{"t":0.759,"r":73,"s":"a"},{"t":0.766,"r":73,"s":"b"},{"t":0.768,"r":73,"s":"e"},{"t":0.778,"r":73,"s":"b"},{"t":0.805,"r":73,"s":"i"},{"t":0.829,"r":73,"s":"a"},{"t":0.833,"r":73,"s":"f"},{"t":0.848,"r":73,"s":"i"},{"t":0.855,"r":73,"s":"h"},{"t":0.869,"r":73,"s":"a"},{"t":0.872,"r":73,"s":"h"},{"t":0.876,"r":73,"s":"h"},{"t":0.883,"r":73,"s":"b"},{"t":0.814,"r":73,"s":"h"},
{"t":0.675,"r":72,"s":"f"},{"t":0.683,"r":72,"s":"a"},{"t":0.695,"r":72,"s":"b"},{"t":0.699,"r":72,"s":"f"},{"t":0.744,"r":72,"s":"a"},{"t":0.748,"r":72,"s":"j"},{"t":0.756,"r":72,"s":"b"},{"t":0.798,"r":72,"s":"a"},{"t":0.807,"r":72,"s":"j"},{"t":0.836,"r":72,"s":"g"},{"t":0.886,"r":72,"s":"c"},
{"t":0.679,"r":71,"s":"c"},{"t":0.692,"r":71,"s":"g"},{"t":0.711,"r":71,"s":"c"},{"t":0.748,"r":71,"s":"d"},{"t":0.787,"r":71,"s":"c"},{"t":0.807,"r":71,"s":"i"},{"t":0.873,"r":71,"s":"j"},{"t":0.897,"r":71,"s":"f"},
{"t":0.667,"r":70,"s":"i"},{"t":0.671,"r":70,"s":"b"},{"t":0.674,"r":70,"s":"a"},{"t":0.693,"r":70,"s":"f"},{"t":0.696,"r":70,"s":"i"},{"t":0.752,"r":70,"s":"g"},{"t":0.753,"r":70,"s":"c"},{"t":0.772,"r":70,"s":"d"},{"t":0.806,"r":70,"s":"a"},{"t":0.832,"r":70,"s":"i"},{"t":0.858,"r":70,"s":"j"},
{"t":0.667,"r":69,"s":"f"},{"t":0.673,"r":69,"s":"h"},{"t":0.677,"r":69,"s":"g"},{"t":0.682,"r":69,"s":"h"},{"t":0.702,"r":69,"s":"b"},{"t":0.737,"r":69,"s":"e"},{"t":0.754,"r":69,"s":"h"},{"t":0.764,"r":69,"s":"i"},{"t":0.767,"r":69,"s":"c"},{"t":0.773,"r":69,"s":"c"},{"t":0.780,"r":69,"s":"h"},{"t":0.804,"r":69,"s":"i"},{"t":0.807,"r":69,"s":"a"},{"t":0.828,"r":69,"s":"j"},{"t":0.833,"r":69,"s":"a"},{"t":0.835,"r":69,"s":"j"},{"t":0.851,"r":69,"s":"b"},{"t":0.861,"r":69,"s":"a"},{"t":0.862,"r":69,"s":"c"},{"t":0.871,"r":69,"s":"h"},{"t":0.878,"r":69,"s":"d"},{"t":0.885,"r":69,"s":"c"},
{"t":0.688,"r":68,"s":"b"},{"t":0.745,"r":68,"s":"a"},{"t":0.753,"r":68,"s":"i"},{"t":0.780,"r":68,"s":"g"},{"t":0.791,"r":68,"s":"h"},{"t":0.811,"r":68,"s":"d"},{"t":0.814,"r":68,"s":"j"},{"t":0.840,"r":68,"s":"d"},{"t":0.848,"r":68,"s":"f"},{"t":0.862,"r":68,"s":"j"},
{"t":0.675,"r":67,"s":"d"},{"t":0.677,"r":67,"s":"e"},{"t":0.686,"r":67,"s":"f"},{"t":0.710,"r":67,"s":"j"},{"t":0.718,"r":67,"s":"d"},{"t":0.726,"r":67,"s":"a"},{"t":0.756,"r":67,"s":"a"},{"t":0.763,"r":67,"s":"c"},{"t":0.766,"r":67,"s":"g"},{"t":0.785,"r":67,"s":"j"},{"t":0.825,"r":67,"s":"g"},{"t":0.836,"r":67,"s":"i"},{"t":0.853,"r":67,"s":"h"},{"t":0.856,"r":67,"s":"g"},{"t":0.860,"r":67,"s":"a"},{"t":0.862,"r":67,"s":"b"},
{"t":0.684,"r":66,"s":"h"},{"t":0.719,"r":66,"s":"g"},{"t":0.725,"r":66,"s":"g"},{"t":0.746,"r":66,"s":"i"},{"t":0.763,"r":66,"s":"b"},{"t":0.794,"r":66,"s":"d"},{"t":0.796,"r":66,"s":"g"},{"t":0.815,"r":66,"s":"d"},{"t":0.822,"r":66,"s":"h"},{"t":0.873,"r":66,"s":"a"},{"t":0.880,"r":66,"s":"b"},{"t":0.885,"r":66,"s":"d"},{"t":0.893,"r":66,"s":"g"},{"t":0.894,"r":66,"s":"e"},
{"t":0.692,"r":65,"s":"b"},{"t":0.696,"r":65,"s":"e"},{"t":0.698,"r":65,"s":"j"},{"t":0.707,"r":65,"s":"b"},{"t":0.715,"r":65,"s":"b"},{"t":0.724,"r":65,"s":"c"},{"t":0.735,"r":65,"s":"d"},{"t":0.779,"r":65,"s":"e"},{"t":0.790,"r":65,"s":"a"},{"t":0.806,"r":65,"s":"i"},{"t":0.830,"r":65,"s":"i"},{"t":0.887,"r":65,"s":"j"},{"t":0.897,"r":65,"s":"d"},
{"t":0.669,"r":64,"s":"i"},{"t":0.692,"r":64,"s":"f"},{"t":0.708,"r":64,"s":"g"},{"t":0.777,"r":64,"s":"h"},{"t":0.787,"r":64,"s":"h"},{"t":0.792,"r":64,"s":"h"},{"t":0.808,"r":64,"s":"b"},{"t":0.827,"r":64,"s":"i"},{"t":0.830,"r":64,"s":"d"},{"t":0.877,"r":64,"s":"c"},{"t":0.883,"r":64,"s":"c"},{"t":0.885,"r":64,"s":"e"},{"t":0.890,"r":64,"s":"f"},
{"t":0.682,"r":63,"s":"a"},{"t":0.686,"r":63,"s":"i"},{"t":0.713,"r":63,"s":"e"},{"t":0.729,"r":63,"s":"d"},{"t":0.754,"r":63,"s":"g"},{"t":0.758,"r":63,"s":"e"},{"t":0.759,"r":63,"s":"b"},{"t":0.785,"r":63,"s":"c"},{"t":0.870,"r":63,"s":"j"},{"t":0.872,"r":63,"s":"a"},{"t":0.878,"r":63,"s":"f"},
{"t":0.666,"r":62,"s":"b"},{"t":0.684,"r":62,"s":"d"},{"t":0.717,"r":62,"s":"g"},{"t":0.722,"r":62,"s":"i"},{"t":0.756,"r":62,"s":"c"},{"t":0.782,"r":62,"s":"a"},{"t":0.783,"r":62,"s":"h"},{"t":0.808,"r":62,"s":"h"},{"t":0.841,"r":62,"s":"f"},{"t":0.864,"r":62,"s":"b"},{"t":0.863,"r":62,"s":"g"},{"t":0.867,"r":62,"s":"e"},
{"t":0.668,"r":61,"s":"b"},{"t":0.681,"r":61,"s":"c"},{"t":0.684,"r":61,"s":"f"},{"t":0.708,"r":61,"s":"f"},{"t":0.732,"r":61,"s":"c"},{"t":0.737,"r":61,"s":"c"},{"t":0.738,"r":61,"s":"f"},{"t":0.794,"r":61,"s":"f"},{"t":0.800,"r":61,"s":"a"},{"t":0.801,"r":61,"s":"b"},{"t":0.815,"r":61,"s":"f"},{"t":0.830,"r":61,"s":"f"},{"t":0.853,"r":61,"s":"j"},{"t":0.857,"r":61,"s":"i"},{"t":0.863,"r":61,"s":"i"},{"t":0.887,"r":61,"s":"d"},
{"t":0.688,"r":60,"s":"d"},{"t":0.689,"r":60,"s":"j"},{"t":0.693,"r":60,"s":"b"},{"t":0.721,"r":60,"s":"d"},{"t":0.724,"r":60,"s":"d"},{"t":0.751,"r":60,"s":"h"},{"t":0.754,"r":60,"s":"a"},{"t":0.759,"r":60,"s":"e"},{"t":0.791,"r":60,"s":"f"},{"t":0.809,"r":60,"s":"a"},{"t":0.823,"r":60,"s":"d"},{"t":0.831,"r":60,"s":"h"},{"t":0.852,"r":60,"s":"g"},{"t":0.888,"r":60,"s":"a"},{"t":0.896,"r":60,"s":"d"},
{"t":0.667,"r":59,"s":"c"},{"t":0.688,"r":59,"s":"j"},{"t":0.716,"r":59,"s":"g"},{"t":0.728,"r":59,"s":"c"},{"t":0.729,"r":59,"s":"g"},{"t":0.734,"r":59,"s":"i"},{"t":0.737,"r":59,"s":"h"},{"t":0.781,"r":59,"s":"i"},{"t":0.832,"r":59,"s":"d"},{"t":0.847,"r":59,"s":"j"},{"t":0.854,"r":59,"s":"e"},{"t":0.862,"r":59,"s":"a"},{"t":0.879,"r":59,"s":"d"},{"t":0.886,"r":59,"s":"e"},{"t":0.898,"r":59,"s":"j"},
{"t":0.680,"r":58,"s":"f"},{"t":0.703,"r":58,"s":"g"},{"t":0.755,"r":58,"s":"d"},{"t":0.774,"r":58,"s":"i"},{"t":0.788,"r":58,"s":"a"},{"t":0.816,"r":58,"s":"a"},{"t":0.829,"r":58,"s":"h"},{"t":0.851,"r":58,"s":"d"},
{"t":0.709,"r":57,"s":"g"},{"t":0.723,"r":57,"s":"c"},{"t":0.743,"r":57,"s":"h"},{"t":0.788,"r":57,"s":"f"},{"t":0.793,"r":57,"s":"g"},{"t":0.804,"r":57,"s":"e"},{"t":0.815,"r":57,"s":"b"},{"t":0.822,"r":57,"s":"j"},{"t":0.855,"r":57,"s":"d"},{"t":0.858,"r":57,"s":"i"},{"t":0.865,"r":57,"s":"a"},{"t":0.899,"r":57,"s":"c"},
{"t":0.690,"r":56,"s":"d"},{"t":0.707,"r":56,"s":"g"},{"t":0.761,"r":56,"s":"f"},{"t":0.763,"r":56,"s":"f"},{"t":0.798,"r":56,"s":"b"},{"t":0.812,"r":56,"s":"a"},{"t":0.828,"r":56,"s":"f"},{"t":0.837,"r":56,"s":"c"},{"t":0.839,"r":56,"s":"i"},{"t":0.843,"r":56,"s":"f"},{"t":0.845,"r":56,"s":"i"},{"t":0.885,"r":56,"s":"d"},
{"t":0.703,"r":55,"s":"j"},{"t":0.742,"r":55,"s":"f"},{"t":0.769,"r":55,"s":"d"},{"t":0.879,"r":55,"s":"a"},{"t":0.891,"r":55,"s":"a"},{"t":0.819,"r":55,"s":"e"},{"t":0.842,"r":55,"s":"j"},
{"t":0.684,"r":54,"s":"g"},{"t":0.744,"r":54,"s":"d"},{"t":0.776,"r":54,"s":"i"},{"t":0.788,"r":54,"s":"c"},{"t":0.795,"r":54,"s":"c"},{"t":0.815,"r":54,"s":"e"},{"t":0.821,"r":54,"s":"f"},{"t":0.846,"r":54,"s":"i"},{"t":0.860,"r":54,"s":"e"},{"t":0.864,"r":54,"s":"h"},{"t":0.889,"r":54,"s":"d"},{"t":0.895,"r":54,"s":"c"},
{"t":0.678,"r":53,"s":"a"},{"t":0.693,"r":53,"s":"d"},{"t":0.728,"r":53,"s":"i"},{"t":0.736,"r":53,"s":"c"},{"t":0.742,"r":53,"s":"b"},{"t":0.749,"r":53,"s":"g"},{"t":0.807,"r":53,"s":"e"},{"t":0.817,"r":53,"s":"b"},{"t":0.859,"r":53,"s":"c"},{"t":0.866,"r":53,"s":"e"},{"t":0.893,"r":53,"s":"a"},
{"t":0.692,"r":52,"s":"d"},{"t":0.735,"r":52,"s":"f"},{"t":0.738,"r":52,"s":"b"},{"t":0.750,"r":52,"s":"d"},{"t":0.757,"r":52,"s":"g"},{"t":0.797,"r":52,"s":"a"},{"t":0.810,"r":52,"s":"i"},{"t":0.813,"r":52,"s":"c"},{"t":0.819,"r":52,"s":"c"},{"t":0.871,"r":52,"s":"e"},{"t":0.898,"r":52,"s":"f"},
{"t":0.673,"r":51,"s":"b"},{"t":0.694,"r":51,"s":"j"},{"t":0.709,"r":51,"s":"a"},{"t":0.710,"r":51,"s":"f"},{"t":0.796,"r":51,"s":"f"},{"t":0.865,"r":51,"s":"j"},{"t":0.897,"r":51,"s":"c"},
{"t":0.805,"r":50,"s":"d"},{"t":0.851,"r":50,"s":"j"},
{"t":0.669,"r":49,"s":"h"},{"t":0.680,"r":49,"s":"d"},{"t":0.694,"r":49,"s":"f"},{"t":0.704,"r":49,"s":"j"},{"t":0.718,"r":49,"s":"j"},{"t":0.722,"r":49,"s":"g"},{"t":0.775,"r":49,"s":"c"},{"t":0.777,"r":49,"s":"d"},{"t":0.782,"r":49,"s":"g"},{"t":0.783,"r":49,"s":"a"},{"t":0.817,"r":49,"s":"j"},{"t":0.828,"r":49,"s":"d"},{"t":0.877,"r":49,"s":"e"},{"t":0.878,"r":49,"s":"c"},
{"t":0.678,"r":48,"s":"c"},{"t":0.709,"r":48,"s":"e"},{"t":0.764,"r":48,"s":"a"},{"t":0.801,"r":48,"s":"g"},{"t":0.896,"r":48,"s":"j"},
{"t":0.762,"r":47,"s":"g"},{"t":0.767,"r":47,"s":"i"},{"t":0.771,"r":47,"s":"c"},{"t":0.805,"r":47,"s":"h"},{"t":0.809,"r":47,"s":"i"},{"t":0.834,"r":47,"s":"a"},{"t":0.846,"r":47,"s":"g"},{"t":0.860,"r":47,"s":"d"},{"t":0.866,"r":47,"s":"i"},{"t":0.868,"r":47,"s":"c"},{"t":0.872,"r":47,"s":"b"},{"t":0.891,"r":47,"s":"j"},
{"t":0.676,"r":46,"s":"d"},{"t":0.696,"r":46,"s":"h"},{"t":0.702,"r":46,"s":"d"},{"t":0.760,"r":46,"s":"c"},{"t":0.763,"r":46,"s":"h"},{"t":0.857,"r":46,"s":"e"},{"t":0.868,"r":46,"s":"f"},{"t":0.880,"r":46,"s":"c"},{"t":0.899,"r":46,"s":"b"},
{"t":0.676,"r":45,"s":"e"},{"t":0.723,"r":45,"s":"a"},{"t":0.728,"r":45,"s":"a"},{"t":0.746,"r":45,"s":"j"},{"t":0.748,"r":45,"s":"f"},{"t":0.761,"r":45,"s":"a"},{"t":0.795,"r":45,"s":"e"},{"t":0.823,"r":45,"s":"i"},{"t":0.835,"r":45,"s":"i"},{"t":0.837,"r":45,"s":"d"},{"t":0.862,"r":45,"s":"d"},{"t":0.896,"r":45,"s":"f"},
{"t":0.668,"r":44,"s":"j"},{"t":0.756,"r":44,"s":"e"},{"t":0.799,"r":44,"s":"c"},{"t":0.801,"r":44,"s":"a"},{"t":0.827,"r":44,"s":"f"},{"t":0.839,"r":44,"s":"c"},{"t":0.854,"r":44,"s":"j"},{"t":0.874,"r":44,"s":"g"},
{"t":0.734,"r":43,"s":"d"},{"t":0.774,"r":43,"s":"j"},{"t":0.776,"r":43,"s":"d"},{"t":0.794,"r":43,"s":"a"},{"t":0.813,"r":43,"s":"h"},{"t":0.828,"r":43,"s":"g"},{"t":0.864,"r":43,"s":"g"},{"t":0.882,"r":43,"s":"f"},{"t":0.896,"r":43,"s":"g"},
{"t":0.668,"r":42,"s":"a"},{"t":0.672,"r":42,"s":"e"},{"t":0.682,"r":42,"s":"d"},{"t":0.692,"r":42,"s":"i"},{"t":0.693,"r":42,"s":"e"},{"t":0.736,"r":42,"s":"g"},{"t":0.751,"r":42,"s":"a"},{"t":0.765,"r":42,"s":"e"},{"t":0.778,"r":42,"s":"j"},{"t":0.800,"r":42,"s":"e"},{"t":0.813,"r":42,"s":"d"},{"t":0.820,"r":42,"s":"j"},{"t":0.873,"r":42,"s":"c"},{"t":0.881,"r":42,"s":"e"},{"t":0.891,"r":42,"s":"d"},
{"t":0.723,"r":41,"s":"i"},{"t":0.730,"r":41,"s":"e"},{"t":0.735,"r":41,"s":"f"},{"t":0.736,"r":41,"s":"e"},{"t":0.738,"r":41,"s":"f"},{"t":0.811,"r":41,"s":"b"},{"t":0.832,"r":41,"s":"c"},{"t":0.833,"r":41,"s":"i"},{"t":0.870,"r":41,"s":"f"},{"t":0.875,"r":41,"s":"j"},{"t":0.882,"r":41,"s":"e"},
{"t":0.690,"r":40,"s":"b"},{"t":0.766,"r":40,"s":"i"},{"t":0.767,"r":40,"s":"d"},{"t":0.772,"r":40,"s":"b"},{"t":0.815,"r":40,"s":"g"},{"t":0.833,"r":40,"s":"g"},{"t":0.834,"r":40,"s":"g"},{"t":0.848,"r":40,"s":"j"},{"t":0.876,"r":40,"s":"a"},
{"t":0.675,"r":39,"s":"b"},{"t":0.689,"r":39,"s":"f"},{"t":0.712,"r":39,"s":"c"},{"t":0.747,"r":39,"s":"g"},{"t":0.768,"r":39,"s":"g"},{"t":0.821,"r":39,"s":"e"},{"t":0.843,"r":39,"s":"b"},{"t":0.846,"r":39,"s":"h"},{"t":0.860,"r":39,"s":"b"},{"t":0.865,"r":39,"s":"b"},
{"t":0.687,"r":38,"s":"h"},{"t":0.721,"r":38,"s":"g"},{"t":0.726,"r":38,"s":"c"},{"t":0.727,"r":38,"s":"h"},{"t":0.743,"r":38,"s":"e"},{"t":0.790,"r":38,"s":"c"},{"t":0.815,"r":38,"s":"i"},{"t":0.823,"r":38,"s":"f"},{"t":0.880,"r":38,"s":"j"},
{"t":0.678,"r":37,"s":"g"},{"t":0.698,"r":37,"s":"d"},{"t":0.712,"r":37,"s":"g"},{"t":0.737,"r":37,"s":"a"},{"t":0.747,"r":37,"s":"c"},{"t":0.758,"r":37,"s":"f"},{"t":0.764,"r":37,"s":"c"},{"t":0.768,"r":37,"s":"f"},{"t":0.776,"r":37,"s":"b"},{"t":0.787,"r":37,"s":"b"},{"t":0.790,"r":37,"s":"j"},{"t":0.793,"r":37,"s":"c"},{"t":0.838,"r":37,"s":"h"},{"t":0.854,"r":37,"s":"c"},{"t":0.858,"r":37,"s":"h"},
{"t":0.690,"r":36,"s":"f"},{"t":0.723,"r":36,"s":"g"},{"t":0.728,"r":36,"s":"h"},{"t":0.783,"r":36,"s":"g"},{"t":0.786,"r":36,"s":"g"},{"t":0.866,"r":36,"s":"g"},{"t":0.868,"r":36,"s":"a"},{"t":0.873,"r":36,"s":"d"},{"t":0.888,"r":36,"s":"e"},{"t":0.889,"r":36,"s":"i"},
{"t":0.670,"r":35,"s":"f"},{"t":0.782,"r":35,"s":"c"},{"t":0.801,"r":35,"s":"d"},{"t":0.810,"r":35,"s":"h"},{"t":0.830,"r":35,"s":"b"},{"t":0.864,"r":35,"s":"a"},{"t":0.867,"r":35,"s":"b"},{"t":0.878,"r":35,"s":"g"},{"t":0.882,"r":35,"s":"b"},{"t":0.888,"r":35,"s":"h"},{"t":0.889,"r":35,"s":"j"},
{"t":0.680,"r":34,"s":"g"},{"t":0.714,"r":34,"s":"f"},{"t":0.731,"r":34,"s":"e"},{"t":0.752,"r":34,"s":"d"},{"t":0.769,"r":34,"s":"h"},{"t":0.778,"r":34,"s":"a"},{"t":0.781,"r":34,"s":"b"},{"t":0.792,"r":34,"s":"f"},{"t":0.802,"r":34,"s":"e"},{"t":0.817,"r":34,"s":"h"},{"t":0.830,"r":34,"s":"g"},{"t":0.850,"r":34,"s":"a"},{"t":0.859,"r":34,"s":"j"},
{"t":0.691,"r":33,"s":"a"},{"t":0.705,"r":33,"s":"d"},{"t":0.716,"r":33,"s":"j"},{"t":0.745,"r":33,"s":"d"},{"t":0.805,"r":33,"s":"j"},{"t":0.878,"r":33,"s":"a"},{"t":0.883,"r":33,"s":"a"},
{"t":0.718,"r":32,"s":"c"},{"t":0.719,"r":32,"s":"i"},{"t":0.739,"r":32,"s":"j"},{"t":0.787,"r":32,"s":"a"},{"t":0.805,"r":32,"s":"g"},{"t":0.824,"r":32,"s":"j"},{"t":0.826,"r":32,"s":"g"},{"t":0.855,"r":32,"s":"c"},{"t":0.666,"r":32,"s":"h"},
{"t":0.676,"r":31,"s":"j"},{"t":0.680,"r":31,"s":"h"},{"t":0.682,"r":31,"s":"e"},{"t":0.684,"r":31,"s":"e"},{"t":0.685,"r":31,"s":"a"},{"t":0.720,"r":31,"s":"b"},{"t":0.730,"r":31,"s":"i"},{"t":0.756,"r":31,"s":"d"},{"t":0.778,"r":31,"s":"i"},{"t":0.794,"r":31,"s":"e"},{"t":0.796,"r":31,"s":"c"},{"t":0.801,"r":31,"s":"e"},{"t":0.804,"r":31,"s":"f"},{"t":0.819,"r":31,"s":"a"},{"t":0.839,"r":31,"s":"e"},{"t":0.843,"r":31,"s":"h"},{"t":0.878,"r":31,"s":"h"},{"t":0.890,"r":31,"s":"a"},{"t":0.898,"r":31,"s":"h"},
{"t":0.670,"r":30,"s":"a"},{"t":0.690,"r":30,"s":"g"},{"t":0.704,"r":30,"s":"e"},{"t":0.706,"r":30,"s":"h"},{"t":0.730,"r":30,"s":"f"},{"t":0.750,"r":30,"s":"i"},{"t":0.784,"r":30,"s":"e"},{"t":0.814,"r":30,"s":"b"},{"t":0.826,"r":30,"s":"e"},{"t":0.835,"r":30,"s":"h"},{"t":0.839,"r":30,"s":"h"},{"t":0.842,"r":30,"s":"b"},{"t":0.853,"r":30,"s":"f"},{"t":0.859,"r":30,"s":"b"},{"t":0.867,"r":30,"s":"j"},{"t":0.894,"r":30,"s":"j"},
{"t":0.670,"r":29,"s":"h"},{"t":0.682,"r":29,"s":"i"},{"t":0.687,"r":29,"s":"j"},{"t":0.691,"r":29,"s":"e"},{"t":0.718,"r":29,"s":"a"},{"t":0.723,"r":29,"s":"e"},{"t":0.732,"r":29,"s":"d"},{"t":0.740,"r":29,"s":"h"},{"t":0.747,"r":29,"s":"b"},{"t":0.766,"r":29,"s":"c"},{"t":0.767,"r":29,"s":"d"},{"t":0.769,"r":29,"s":"a"},{"t":0.786,"r":29,"s":"h"},{"t":0.796,"r":29,"s":"j"},{"t":0.799,"r":29,"s":"j"},{"t":0.810,"r":29,"s":"d"},{"t":0.823,"r":29,"s":"a"},{"t":0.836,"r":29,"s":"f"},{"t":0.857,"r":29,"s":"a"},{"t":0.860,"r":29,"s":"c"},{"t":0.866,"r":29,"s":"c"},
{"t":0.685,"r":28,"s":"d"},{"t":0.687,"r":28,"s":"c"},{"t":0.704,"r":28,"s":"i"},{"t":0.734,"r":28,"s":"a"},{"t":0.780,"r":28,"s":"c"},{"t":0.801,"r":28,"s":"c"},{"t":0.819,"r":28,"s":"i"},{"t":0.849,"r":28,"s":"g"},{"t":0.879,"r":28,"s":"g"},{"t":0.893,"r":28,"s":"e"},
{"t":0.692,"r":27,"s":"a"},{"t":0.693,"r":27,"s":"i"},{"t":0.701,"r":27,"s":"g"},{"t":0.726,"r":27,"s":"g"},{"t":0.739,"r":27,"s":"a"},{"t":0.769,"r":27,"s":"j"},{"t":0.787,"r":27,"s":"e"},{"t":0.870,"r":27,"s":"g"},
{"t":0.696,"r":26,"s":"f"},{"t":0.698,"r":26,"s":"f"},{"t":0.703,"r":26,"s":"i"},{"t":0.719,"r":26,"s":"j"},{"t":0.734,"r":26,"s":"b"},{"t":0.776,"r":26,"s":"c"},{"t":0.790,"r":26,"s":"i"},{"t":0.820,"r":26,"s":"a"},{"t":0.820,"r":26,"s":"d"},{"t":0.831,"r":26,"s":"j"},{"t":0.834,"r":26,"s":"d"},{"t":0.850,"r":26,"s":"i"},{"t":0.874,"r":26,"s":"e"},{"t":0.884,"r":26,"s":"f"},
{"t":0.711,"r":25,"s":"a"},{"t":0.725,"r":25,"s":"a"},{"t":0.740,"r":25,"s":"i"},{"t":0.743,"r":25,"s":"i"},{"t":0.778,"r":25,"s":"c"},{"t":0.781,"r":25,"s":"e"},{"t":0.792,"r":25,"s":"a"},{"t":0.806,"r":25,"s":"d"},{"t":0.847,"r":25,"s":"f"},
{"t":0.727,"r":24,"s":"d"},{"t":0.737,"r":24,"s":"i"},{"t":0.751,"r":24,"s":"e"},{"t":0.752,"r":24,"s":"i"},{"t":0.754,"r":24,"s":"e"},{"t":0.770,"r":24,"s":"i"},{"t":0.790,"r":24,"s":"f"},{"t":0.791,"r":24,"s":"e"},{"t":0.798,"r":24,"s":"j"},{"t":0.800,"r":24,"s":"g"},{"t":0.834,"r":24,"s":"c"},{"t":0.843,"r":24,"s":"i"},{"t":0.845,"r":24,"s":"f"},
{"t":0.668,"r":23,"s":"e"},{"t":0.697,"r":23,"s":"h"},{"t":0.711,"r":23,"s":"g"},{"t":0.718,"r":23,"s":"f"},{"t":0.744,"r":23,"s":"j"},{"t":0.758,"r":23,"s":"j"},{"t":0.760,"r":23,"s":"i"},{"t":0.777,"r":23,"s":"b"},{"t":0.798,"r":23,"s":"c"},{"t":0.804,"r":23,"s":"j"},{"t":0.816,"r":23,"s":"f"},{"t":0.819,"r":23,"s":"h"},{"t":0.873,"r":23,"s":"f"},{"t":0.881,"r":23,"s":"d"},
{"t":0.669,"r":22,"s":"b"},{"t":0.709,"r":22,"s":"c"},{"t":0.713,"r":22,"s":"b"},{"t":0.717,"r":22,"s":"c"},{"t":0.730,"r":22,"s":"h"},{"t":0.768,"r":22,"s":"h"},{"t":0.781,"r":22,"s":"h"},{"t":0.851,"r":22,"s":"c"},{"t":0.854,"r":22,"s":"b"},{"t":0.858,"r":22,"s":"g"},{"t":0.887,"r":22,"s":"h"},{"t":0.894,"r":22,"s":"c"},
{"t":0.666,"r":21,"s":"c"},{"t":0.690,"r":21,"s":"i"},{"t":0.711,"r":21,"s":"f"},{"t":0.719,"r":21,"s":"f"},{"t":0.725,"r":21,"s":"h"},{"t":0.728,"r":21,"s":"e"},{"t":0.743,"r":21,"s":"j"},{"t":0.769,"r":21,"s":"c"},{"t":0.791,"r":21,"s":"g"},{"t":0.803,"r":21,"s":"a"},{"t":0.831,"r":21,"s":"g"},{"t":0.841,"r":21,"s":"h"},{"t":0.856,"r":21,"s":"c"},{"t":0.869,"r":21,"s":"b"},{"t":0.888,"r":21,"s":"f"},{"t":0.890,"r":21,"s":"e"},
{"t":0.706,"r":20,"s":"d"},{"t":0.749,"r":20,"s":"b"},{"t":0.797,"r":20,"s":"d"},{"t":0.808,"r":20,"s":"f"},{"t":0.826,"r":20,"s":"a"},{"t":0.849,"r":20,"s":"b"},{"t":0.861,"r":20,"s":"h"},{"t":0.878,"r":20,"s":"j"},{"t":0.890,"r":20,"s":"c"},
{"t":0.669,"r":19,"s":"e"},{"t":0.671,"r":19,"s":"f"},{"t":0.673,"r":19,"s":"j"},{"t":0.683,"r":19,"s":"c"},{"t":0.695,"r":19,"s":"c"},{"t":0.703,"r":19,"s":"b"},{"t":0.704,"r":19,"s":"g"},{"t":0.729,"r":19,"s":"c"},{"t":0.734,"r":19,"s":"c"},{"t":0.738,"r":19,"s":"d"},{"t":0.749,"r":19,"s":"a"},{"t":0.762,"r":19,"s":"i"},{"t":0.780,"r":19,"s":"j"},{"t":0.788,"r":19,"s":"j"},{"t":0.801,"r":19,"s":"j"},{"t":0.802,"r":19,"s":"h"},{"t":0.845,"r":19,"s":"b"},{"t":0.867,"r":19,"s":"i"},{"t":0.896,"r":19,"s":"e"},{"t":0.898,"r":19,"s":"i"},
{"t":0.700,"r":18,"s":"i"},{"t":0.704,"r":18,"s":"h"},{"t":0.705,"r":18,"s":"j"},{"t":0.714,"r":18,"s":"c"},{"t":0.715,"r":18,"s":"j"},{"t":0.720,"r":18,"s":"f"},{"t":0.732,"r":18,"s":"f"},{"t":0.738,"r":18,"s":"j"},{"t":0.752,"r":18,"s":"h"},{"t":0.860,"r":18,"s":"g"},{"t":0.891,"r":18,"s":"b"},{"t":0.895,"r":18,"s":"b"},
{"t":0.693,"r":17,"s":"h"},{"t":0.716,"r":17,"s":"f"},{"t":0.744,"r":17,"s":"b"},{"t":0.782,"r":17,"s":"h"},{"t":0.794,"r":17,"s":"h"},{"t":0.796,"r":17,"s":"g"},{"t":0.825,"r":17,"s":"d"},{"t":0.828,"r":17,"s":"a"},{"t":0.830,"r":17,"s":"a"},{"t":0.834,"r":17,"s":"h"},{"t":0.890,"r":17,"s":"b"},
{"t":0.667,"r":16,"s":"d"},{"t":0.676,"r":16,"s":"i"},{"t":0.736,"r":16,"s":"a"},{"t":0.742,"r":16,"s":"j"},{"t":0.756,"r":16,"s":"h"},{"t":0.771,"r":16,"s":"c"},{"t":0.783,"r":16,"s":"b"},{"t":0.810,"r":16,"s":"f"},{"t":0.816,"r":16,"s":"c"},{"t":0.850,"r":16,"s":"c"},{"t":0.857,"r":16,"s":"h"},{"t":0.892,"r":16,"s":"f"},
{"t":0.669,"r":15,"s":"d"},{"t":0.673,"r":15,"s":"i"},{"t":0.690,"r":15,"s":"c"},{"t":0.723,"r":15,"s":"d"},{"t":0.741,"r":15,"s":"a"},{"t":0.754,"r":15,"s":"f"},{"t":0.765,"r":15,"s":"j"},{"t":0.848,"r":15,"s":"b"},{"t":0.888,"r":15,"s":"c"},{"t":0.893,"r":15,"s":"i"},
{"t":0.698,"r":14,"s":"a"},{"t":0.709,"r":14,"s":"b"},{"t":0.744,"r":14,"s":"h"},{"t":0.755,"r":14,"s":"h"},{"t":0.761,"r":14,"s":"b"},{"t":0.778,"r":14,"s":"g"},{"t":0.798,"r":14,"s":"g"},{"t":0.803,"r":14,"s":"b"},{"t":0.806,"r":14,"s":"g"},{"t":0.817,"r":14,"s":"e"},{"t":0.856,"r":14,"s":"j"},{"t":0.882,"r":14,"s":"a"},
{"t":0.672,"r":13,"s":"h"},{"t":0.689,"r":13,"s":"i"},{"t":0.700,"r":13,"s":"g"},{"t":0.726,"r":13,"s":"b"},{"t":0.731,"r":13,"s":"a"},{"t":0.736,"r":13,"s":"b"},{"t":0.742,"r":13,"s":"a"},{"t":0.757,"r":13,"s":"f"},{"t":0.773,"r":13,"s":"h"},{"t":0.779,"r":13,"s":"a"},{"t":0.820,"r":13,"s":"b"},{"t":0.824,"r":13,"s":"b"},{"t":0.893,"r":13,"s":"h"},
{"t":0.688,"r":12,"s":"d"},{"t":0.707,"r":12,"s":"a"},{"t":0.722,"r":12,"s":"f"},{"t":0.727,"r":12,"s":"a"},{"t":0.752,"r":12,"s":"a"},{"t":0.841,"r":12,"s":"g"},{"t":0.854,"r":12,"s":"i"},{"t":0.864,"r":12,"s":"c"},{"t":0.878,"r":12,"s":"b"},{"t":0.894,"r":12,"s":"b"},
{"t":0.666,"r":11,"s":"j"},{"t":0.689,"r":11,"s":"h"},{"t":0.689,"r":11,"s":"e"},{"t":0.727,"r":11,"s":"g"},{"t":0.734,"r":11,"s":"e"},{"t":0.784,"r":11,"s":"g"},{"t":0.802,"r":11,"s":"j"},{"t":0.813,"r":11,"s":"f"},{"t":0.825,"r":11,"s":"j"},{"t":0.852,"r":11,"s":"f"},{"t":0.855,"r":11,"s":"f"},{"t":0.866,"r":11,"s":"f"},{"t":0.869,"r":11,"s":"i"},{"t":0.875,"r":11,"s":"b"},
{"t":0.675,"r":10,"s":"h"},{"t":0.730,"r":10,"s":"c"},{"t":0.734,"r":10,"s":"j"},{"t":0.724,"r":10,"s":"i"},{"t":0.741,"r":10,"s":"b"},{"t":0.771,"r":10,"s":"g"},{"t":0.800,"r":10,"s":"d"},{"t":0.819,"r":10,"s":"b"},{"t":0.837,"r":10,"s":"g"},{"t":0.884,"r":10,"s":"g"},
{"t":0.675,"r":9,"s":"c"},{"t":0.708,"r":9,"s":"h"},{"t":0.734,"r":9,"s":"h"},{"t":0.792,"r":9,"s":"e"},{"t":0.797,"r":9,"s":"f"},{"t":0.805,"r":9,"s":"b"},{"t":0.817,"r":9,"s":"i"},{"t":0.819,"r":9,"s":"j"},{"t":0.885,"r":9,"s":"j"},{"t":0.888,"r":9,"s":"b"},
{"t":0.720,"r":8,"s":"c"},{"t":0.726,"r":8,"s":"j"},{"t":0.742,"r":8,"s":"i"},{"t":0.771,"r":8,"s":"d"},{"t":0.804,"r":8,"s":"d"},{"t":0.823,"r":8,"s":"c"},{"t":0.839,"r":8,"s":"d"},{"t":0.849,"r":8,"s":"j"},{"t":0.880,"r":8,"s":"g"},{"t":0.891,"r":8,"s":"f"},
{"t":0.669,"r":7,"s":"j"},{"t":0.684,"r":7,"s":"f"},{"t":0.732,"r":7,"s":"i"},{"t":0.754,"r":7,"s":"i"},{"t":0.771,"r":7,"s":"i"},{"t":0.782,"r":7,"s":"e"},{"t":0.848,"r":7,"s":"a"},{"t":0.851,"r":7,"s":"h"},{"t":0.885,"r":7,"s":"b"},{"t":0.897,"r":7,"s":"a"},
{"t":0.713,"r":6,"s":"j"},{"t":0.721,"r":6,"s":"j"},{"t":0.756,"r":6,"s":"i"},{"t":0.763,"r":6,"s":"d"},{"t":0.771,"r":6,"s":"h"},{"t":0.773,"r":6,"s":"b"},{"t":0.786,"r":6,"s":"i"},{"t":0.839,"r":6,"s":"b"},{"t":0.842,"r":6,"s":"i"},{"t":0.887,"r":6,"s":"a"},{"t":0.888,"r":6,"s":"g"},
{"t":0.710,"r":5,"s":"e"},{"t":0.763,"r":5,"s":"g"},{"t":0.763,"r":5,"s":"e"},{"t":0.780,"r":5,"s":"a"},{"t":0.782,"r":5,"s":"i"},{"t":0.785,"r":5,"s":"e"},{"t":0.792,"r":5,"s":"c"},{"t":0.808,"r":5,"s":"j"},{"t":0.856,"r":5,"s":"d"},
{"t":0.667,"r":4,"s":"h"},{"t":0.691,"r":4,"s":"h"},{"t":0.695,"r":4,"s":"i"},{"t":0.715,"r":4,"s":"e"},{"t":0.727,"r":4,"s":"b"},{"t":0.736,"r":4,"s":"i"},{"t":0.811,"r":4,"s":"a"},{"t":0.825,"r":4,"s":"h"},{"t":0.844,"r":4,"s":"j"},{"t":0.848,"r":4,"s":"c"},{"t":0.893,"r":4,"s":"j"},{"t":0.899,"r":4,"s":"h"},
{"t":0.678,"r":3,"s":"h"},{"t":0.697,"r":3,"s":"c"},{"t":0.704,"r":3,"s":"b"},{"t":0.724,"r":3,"s":"f"},{"t":0.726,"r":3,"s":"f"},{"t":0.747,"r":3,"s":"f"},{"t":0.800,"r":3,"s":"i"},{"t":0.825,"r":3,"s":"i"},{"t":0.836,"r":3,"s":"e"},{"t":0.838,"r":3,"s":"f"},{"t":0.848,"r":3,"s":"e"},{"t":0.856,"r":3,"s":"b"},{"t":0.861,"r":3,"s":"j"},{"t":0.895,"r":3,"s":"i"},
{"t":0.672,"r":2,"s":"i"},{"t":0.678,"r":2,"s":"f"},{"t":0.730,"r":2,"s":"b"},{"t":0.803,"r":2,"s":"f"},{"t":0.811,"r":2,"s":"g"},{"t":0.833,"r":2,"s":"j"},{"t":0.838,"r":2,"s":"i"},{"t":0.886,"r":2,"s":"g"},
{"t":0.678,"r":1,"s":"j"},{"t":0.699,"r":1,"s":"d"},{"t":0.704,"r":1,"s":"c"},{"t":0.713,"r":1,"s":"a"},{"t":0.749,"r":1,"s":"h"},{"t":0.761,"r":1,"s":"d"},{"t":0.771,"r":1,"s":"j"},{"t":0.800,"r":1,"s":"f"},{"t":0.801,"r":1,"s":"i"},{"t":0.825,"r":1,"s":"h"},{"t":0.851,"r":1,"s":"i"}
]},"mark":{"type":"point","filled":true,"opacity":1,"size":46,"clip":false},"encoding":{"x":{"field":"t","type":"quantitative","scale":{"domain":[0.2,0.9],"nice":false,"zero":false},"axis":{"values":[0.2,0.4,0.6,0.8],"format":".1f","grid":false,"ticks":false,"domain":false,"labelFont":"Lato","labelFontSize":47,"labelColor":"#000","labelPadding":47,"labelOverlap":false,"labelFlush":false,"title":"time (secs)","titleFont":"Lato","titleFontSize":51,"titleFontWeight":"bold","titleColor":"#000","titleX":585,"titleY":146,"titleAnchor":"middle","titleAlign":"center","titleBaseline":"alphabetic"}},"y":{"field":"r","type":"quantitative","scale":{"domain":[0,100],"nice":false,"zero":false},"axis":{"values":[0,20,40,60,80,100],"grid":true,"gridColor":"#a6a6a6","gridWidth":1.5,"ticks":false,"domain":true,"domainColor":"#999999","domainWidth":1.5,"labelFont":"Lato","labelFontSize":47,"labelColor":"#000","labelPadding":50,"labelOffset":3,"title":"DISTRICT records","titleFont":"Lato","titleFontSize":51,"titleFontWeight":"bold","titleColor":"#000","titleX":-153,"titleY":344,"titleAnchor":"middle","titleAlign":"center","titleBaseline":"alphabetic"}},"color":{"field":"s","type":"nominal","legend":null,"scale":{"domain":["a","b","c","d","e","f","g","h","i","j"],"range":["#163e72","#b00000","#3a66b1","#5e9c3a","#e5a900","#8592b0","#8e8e8e","#d27f86","#c3c3c3","#ffcd85"]}},"order":{"field":"s"}}}
